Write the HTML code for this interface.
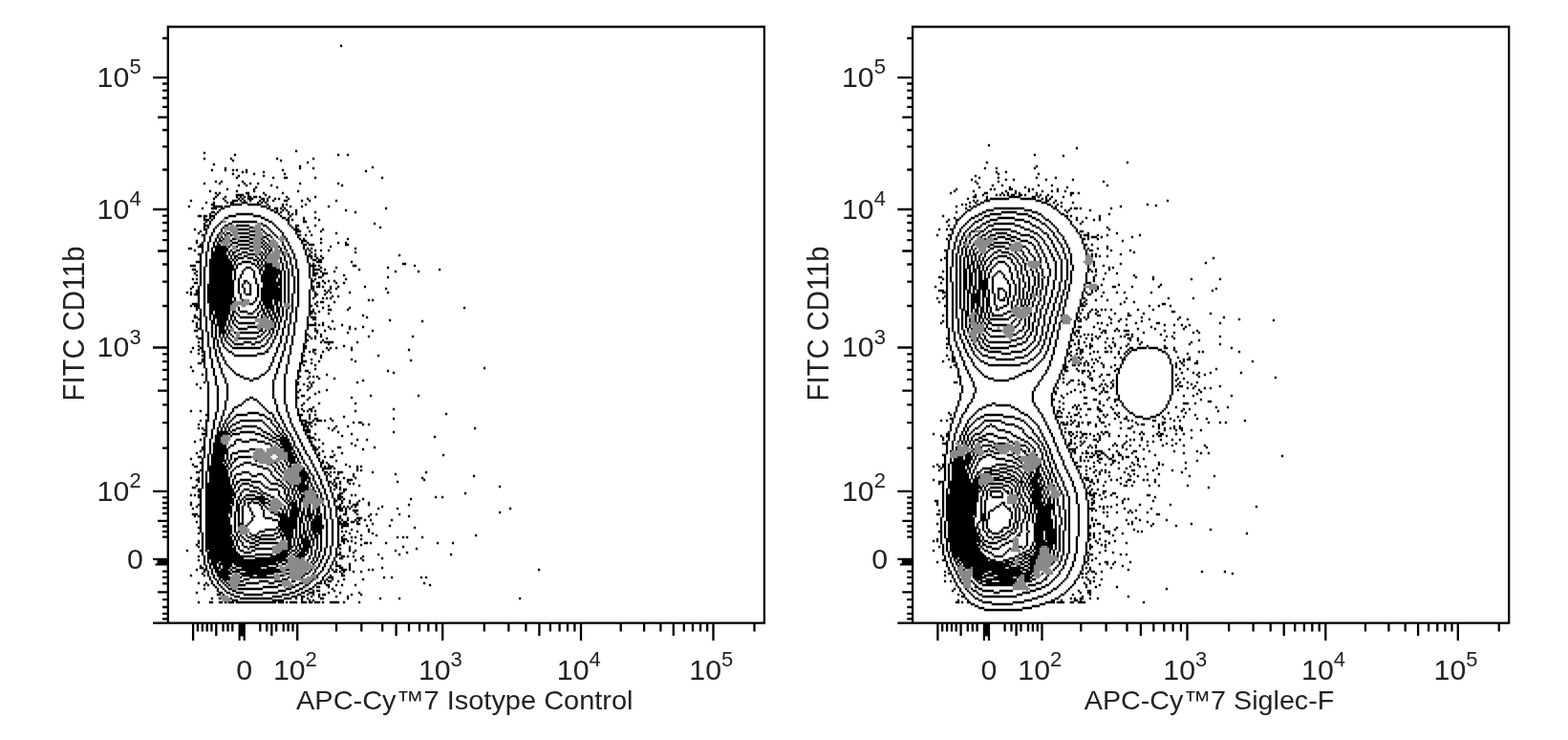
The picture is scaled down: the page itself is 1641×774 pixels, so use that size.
<!DOCTYPE html>
<html lang="en"><head><meta charset="utf-8"><title>Flow cytometry: CD11b vs Siglec-F</title>
<style>
html,body{margin:0;padding:0;background:#fff}
body{width:1641px;height:774px;overflow:hidden;position:relative}
svg{position:absolute;left:0;top:0;display:block}
text{font-family:"Liberation Sans",Arial,Helvetica,sans-serif;fill:#222}
.t{font-size:30.3px}
.u{font-size:22px}
.l{font-size:28px}
.v{font-size:30.6px}
</style></head><body>
<svg width="1641" height="774" viewBox="0 0 1641 774">
<rect width="1641" height="774" fill="#fff"/>
<g id="plots">
<g id="plot-left">
<path d="M174.7 28H801M175.8 28V651.6M799.9 28V652.8M160 651.6H799.9M202.1 651.6V670M206.9 651.6V660.4M211.8 651.6V660.4M216.7 651.6V660.4M221.4 651.6V660.4M226.3 651.6V665M233.5 651.6V660.4M238.5 651.6V660.4M243.3 651.6V660.4M272.3 651.6V660.4M279.2 651.6V660.4M284.3 651.6V665M289.2 651.6V660.4M296.7 651.6V660.4M301.6 651.6V660.4M306.5 651.6V660.4M311.2 651.6V670M352 651.6V660.4M378.3 651.6V660.4M400.2 651.6V660.4M414.6 651.6V665M428 651.6V660.4M439 651.6V660.4M448.3 651.6V660.4M456.6 651.6V660.4M463.2 651.6V670M506.8 651.6V660.4M532.3 651.6V660.4M550.4 651.6V660.4M564.4 651.6V665M575.9 651.6V660.4M585.6 651.6V660.4M594 651.6V660.4M601.4 651.6V660.4M608 651.6V670M649.7 651.6V660.4M674.1 651.6V660.4M691.4 651.6V660.4M704.8 651.6V665M715.8 651.6V660.4M725 651.6V660.4M733.1 651.6V660.4M740.2 651.6V660.4M746.5 651.6V670M789.5 651.6V660.4M175.8 40H170M175.8 81.2H160M175.8 87.5H170M175.8 94.6H170M175.8 102.5H170M175.8 111.8H170M175.8 122.7H165M175.8 136H170M175.8 153.3H170M175.8 177.5H170M175.8 219H160M175.8 225.6H170M175.8 233H170M175.8 241.4H170M175.8 251.1H170M175.8 262.5H165M175.8 276.5H170M175.8 294.6H170M175.8 320H170M175.8 363.5H160M175.8 370.4H170M175.8 378.1H170M175.8 386.8H170M175.8 396.8H170M175.8 408.7H165M175.8 423.3H170M175.8 442.1H170M175.8 468.6H170M175.8 513.8H160M175.8 520.3H170M175.8 526H170M175.8 531.4H170M175.8 537H170M175.8 544.9H165M175.8 550.5H170M175.8 555.9H170M175.8 561.6H170M175.8 597.7H170M175.8 603.8H170M175.8 610.4H170M175.8 619.3H165M175.8 627.1H170M175.8 635H170M175.8 641.9H170M175.8 647.3H170" fill="none" stroke="#000" stroke-width="2.3"/>
<path d="M249.5 651.6V670H251.6V665.5H254.6V670H256.8V651.6Z" fill="#000"/>
<path d="M175.8 583.8H160V586H164.5V589.4H162.5V591.4H175.8Z" fill="#000"/>
<path d="M308.9 158h2.3M212.8 160h2.3M244.8 162h2.3M362.9 162h2.3M212.8 166h2.3M240.8 166h2.3M288.9 166h2.3M326.9 166h2.3M242.8 168h2.3M292.9 168h2.3M320.9 170h2.3M222.8 172h2.3M312.9 174h2.3M234.8 176h2.3M312.9 176h2.3M326.9 176h2.3M220.8 178h2.3M234.8 178h2.3M242.8 178h2.3M246.8 178h2.3M256.9 178h2.3M294.9 178h2.3M252.8 180h2.3M256.9 180h2.3M274.9 180h2.3M242.8 182h2.3M264.9 182h2.3M296.9 182h2.3M248.8 184h2.3M274.9 184h2.3M246.8 186h2.3M284.9 186h2.3M296.9 186h4.3M328.9 186h2.3M224.8 190h2.3M230.8 190h2.3M252.8 190h2.3M212.8 192h2.3M228.8 192h2.3M254.8 192h2.3M260.9 192h2.3M268.9 192h2.3M312.9 192h2.3M352.9 192h2.3M248.8 194h2.3M256.9 194h2.3M282.9 194h2.3M356.9 194h2.3M266.9 196h2.3M288.9 196h2.3M236.8 198h2.3M264.9 198h2.3M218.8 200h2.3M246.8 200h2.3M264.9 200h2.3M310.9 200h2.3M224.8 202h2.3M228.8 202h2.3M256.9 202h4.3M274.9 202h2.3M294.9 202h2.3M226.8 204h2.3M246.8 204h8.3M258.9 204h2.3M276.9 204h2.3M224.8 206h2.3M234.8 206h2.3M246.8 206h2.3M250.8 206h2.3M254.8 206h2.3M258.9 206h4.3M264.9 206h4.3M270.9 206h2.3M280.9 206h2.3M298.9 206h2.3M328.9 206h2.3M222.8 208h2.3M232.8 208h2.3M248.8 208h2.3M252.8 208h2.3M258.9 208h6.3M272.9 208h4.3M278.9 208h2.3M286.9 208h2.3M290.9 208h2.3M300.9 208h2.3M320.9 208h2.3M198.8 210h2.3M234.8 210h2.3M242.8 210h6.3M250.8 210h2.3M254.8 210h2.3M260.9 210h2.3M270.9 210h2.3M274.9 210h2.3M278.9 210h2.3M284.9 210h2.3M296.9 210h4.3M314.9 210h2.3M322.9 210h2.3M350.9 210h2.3M214.8 212h2.3M222.8 212h2.3M236.8 212h2.3M240.8 212h4.3M252.8 212h6.3M268.9 212h2.3M272.9 212h2.3M276.9 212h2.3M220.8 214h4.3M240.8 214h12.3M258.9 214h14.3M278.9 214h2.3M294.9 214h2.3M298.9 214h2.3M318.9 214h2.3M196.8 216h2.3M222.8 216h10.3M234.8 216h6.3M272.9 216h6.3M280.9 216h2.3M294.9 216h2.3M302.9 216h2.3M314.9 216h2.3M342.9 216h2.3M210.8 218h2.3M220.8 218h6.3M230.8 218h4.3M278.9 218h4.3M286.9 218h4.3M292.9 218h2.3M296.9 218h2.3M228.8 220h2.3M282.9 220h4.3M288.9 220h2.3M294.9 220h2.3M298.9 220h2.3M308.9 220h2.3M360.9 220h2.3M220.8 222h4.3M226.8 222h2.3M286.9 222h4.3M292.9 222h2.3M300.9 222h2.3M308.9 222h2.3M328.9 222h2.3M370.9 222h2.3M218.8 224h2.3M224.8 224h2.3M246.8 224h18.3M290.9 224h2.3M300.9 224h2.3M304.9 224h2.3M308.9 224h2.3M206.8 226h4.3M212.8 226h4.3M218.8 226h6.3M238.8 226h8.3M264.9 226h8.3M292.9 226h2.3M302.9 226h2.3M212.8 228h2.3M218.8 228h2.3M222.8 228h2.3M234.8 228h4.3M272.9 228h4.3M294.9 228h4.3M300.9 228h2.3M316.9 228h2.3M328.9 228h2.3M212.8 230h6.3M220.8 230h2.3M276.9 230h4.3M298.9 230h4.3M304.9 230h2.3M316.9 230h2.3M332.9 230h2.3M214.8 232h2.3M218.8 232h2.3M230.8 232h2.3M242.8 232h26.3M280.9 232h4.3M300.9 232h2.3M316.9 232h4.3M212.8 234h2.3M218.8 234h2.3M228.8 234h2.3M238.8 234h4.3M272.9 234h2.3M284.9 234h2.3M300.9 234h2.3M390.9 234h2.3M212.8 236h6.3M226.8 236h2.3M234.8 236h4.3M246.8 236h14.3M274.9 236h4.3M286.9 236h2.3M302.9 236h2.3M308.9 236h4.3M328.9 236h2.3M212.8 238h2.3M216.8 238h2.3M224.8 238h2.3M232.8 238h2.3M260.9 238h4.3M278.9 238h2.3M288.9 238h2.3M304.9 238h2.3M308.9 238h2.3M320.9 238h2.3M396.9 238h2.3M202.8 240h2.3M212.8 240h4.3M222.8 240h2.3M230.8 240h2.3M248.8 240h12.3M272.9 240h2.3M280.9 240h2.3M290.9 240h2.3M306.9 240h6.3M336.9 240h2.3M208.8 242h2.3M214.8 242h2.3M222.8 242h2.3M230.8 242h2.3M260.9 242h6.3M274.9 242h2.3M282.9 242h2.3M292.9 242h2.3M308.9 242h6.3M322.9 242h2.3M334.9 242h2.3M206.8 244h2.3M214.8 244h2.3M220.8 244h2.3M228.8 244h2.3M232.8 244h2.3M236.8 244h4.3M248.8 244h12.3M276.9 244h2.3M284.9 244h2.3M294.9 244h2.3M308.9 244h2.3M350.9 244h2.3M210.8 246h4.3M220.8 246h2.3M226.8 246h2.3M234.8 246h2.3M240.8 246h2.3M260.9 246h6.3M278.9 246h4.3M286.9 246h2.3M294.9 246h2.3M310.9 246h4.3M318.9 246h2.3M324.9 246h2.3M212.8 248h2.3M218.8 248h2.3M226.8 248h2.3M230.8 248h2.3M250.8 248h10.3M274.9 248h4.3M282.9 248h2.3M288.9 248h2.3M296.9 248h2.3M310.9 248h2.3M212.8 250h2.3M218.8 250h2.3M224.8 250h2.3M228.8 250h2.3M232.8 250h2.3M242.8 250h4.3M260.9 250h4.3M272.9 250h2.3M278.9 250h2.3M298.9 250h2.3M312.9 250h2.3M316.9 250h2.3M334.9 250h2.3M362.9 250h2.3M204.8 252h2.3M212.8 252h2.3M218.8 252h2.3M224.8 252h2.3M228.8 252h4.3M240.8 252h2.3M248.8 252h12.3M274.9 252h2.3M280.9 252h2.3M298.9 252h2.3M314.9 252h6.3M204.8 254h2.3M210.8 254h2.3M216.8 254h2.3M222.8 254h2.3M226.8 254h2.3M242.8 254h6.3M260.9 254h4.3M272.9 254h2.3M276.9 254h2.3M294.9 254h2.3M300.9 254h2.3M314.9 254h2.3M320.9 254h2.3M334.9 254h2.3M352.9 254h2.3M360.9 254h2.3M208.8 256h4.3M216.8 256h2.3M222.8 256h2.3M226.8 256h4.3M240.8 256h2.3M248.8 256h12.3M274.9 256h2.3M278.9 256h2.3M294.9 256h2.3M300.9 256h2.3M316.9 256h4.3M322.9 256h6.3M360.9 256h4.3M206.8 258h6.3M216.8 258h2.3M222.8 258h14.3M238.8 258h2.3M246.8 258h2.3M260.9 258h4.3M272.9 258h2.3M276.9 258h2.3M280.9 258h2.3M290.9 258h2.3M296.9 258h2.3M302.9 258h2.3M316.9 258h2.3M344.9 258h2.3M196.8 260h4.3M210.8 260h2.3M216.8 260h2.3M220.8 260h2.3M224.8 260h14.3M250.8 260h10.3M274.9 260h2.3M278.9 260h2.3M282.9 260h2.3M292.9 260h2.3M296.9 260h2.3M302.9 260h2.3M316.9 260h2.3M320.9 260h2.3M324.9 260h2.3M370.9 260h2.3M202.8 262h2.3M210.8 262h2.3M216.8 262h2.3M220.8 262h2.3M224.8 262h14.3M240.8 262h2.3M246.8 262h4.3M260.9 262h4.3M276.9 262h2.3M280.9 262h4.3M292.9 262h2.3M298.9 262h2.3M304.9 262h2.3M318.9 262h2.3M322.9 262h2.3M328.9 262h2.3M334.9 262h2.3M342.9 262h2.3M210.8 264h2.3M214.8 264h2.3M220.8 264h16.3M238.8 264h2.3M242.8 264h4.3M252.8 264h6.3M272.9 264h2.3M276.9 264h2.3M280.9 264h2.3M294.9 264h2.3M304.9 264h2.3M318.9 264h2.3M324.9 264h2.3M370.9 264h2.3M206.8 266h4.3M214.8 266h2.3M220.8 266h16.3M238.8 266h2.3M242.8 266h2.3M248.8 266h4.3M258.9 266h8.3M270.9 266h2.3M274.9 266h2.3M278.9 266h2.3M294.9 266h2.3M300.9 266h2.3M306.9 266h2.3M318.9 266h2.3M322.9 266h2.3M328.9 266h2.3M208.8 268h2.3M214.8 268h2.3M220.8 268h18.3M240.8 268h2.3M244.8 268h4.3M254.8 268h4.3M266.9 268h2.3M272.9 268h2.3M276.9 268h2.3M296.9 268h2.3M300.9 268h2.3M306.9 268h2.3M320.9 268h6.3M328.9 268h2.3M334.9 268h2.3M208.8 270h2.3M214.8 270h2.3M220.8 270h18.3M240.8 270h2.3M244.8 270h2.3M248.8 270h6.3M258.9 270h6.3M268.9 270h2.3M272.9 270h2.3M276.9 270h2.3M292.9 270h2.3M296.9 270h2.3M302.9 270h2.3M306.9 270h2.3M320.9 270h2.3M324.9 270h2.3M330.9 270h2.3M336.9 270h2.3M208.8 272h2.3M214.8 272h2.3M218.8 272h22.3M242.8 272h2.3M246.8 272h2.3M264.9 272h4.3M270.9 272h2.3M274.9 272h2.3M292.9 272h2.3M296.9 272h2.3M302.9 272h2.3M308.9 272h2.3M320.9 272h2.3M326.9 272h4.3M332.9 272h4.3M204.8 274h6.3M214.8 274h2.3M218.8 274h24.3M244.8 274h2.3M252.8 274h10.3M268.9 274h2.3M272.9 274h2.3M276.9 274h2.3M292.9 274h2.3M298.9 274h2.3M302.9 274h2.3M308.9 274h2.3M320.9 274h2.3M330.9 274h6.3M366.9 274h2.3M208.8 276h2.3M214.8 276h2.3M218.8 276h24.3M244.8 276h2.3M248.8 276h4.3M262.9 276h4.3M268.9 276h2.3M272.9 276h2.3M276.9 276h8.3M294.9 276h2.3M298.9 276h2.3M302.9 276h2.3M308.9 276h2.3M322.9 276h2.3M326.9 276h2.3M420.9 276h4.3M198.8 278h6.3M208.8 278h2.3M214.8 278h2.3M218.8 278h26.3M246.8 278h2.3M266.9 278h2.3M270.9 278h2.3M274.9 278h10.3M294.9 278h2.3M298.9 278h2.3M304.9 278h2.3M308.9 278h2.3M322.9 278h8.3M332.9 278h2.3M368.9 278h4.3M432.9 278h2.3M208.8 280h2.3M212.8 280h2.3M218.8 280h26.3M246.8 280h2.3M256.9 280h6.3M268.9 280h2.3M272.9 280h2.3M276.9 280h12.3M294.9 280h2.3M298.9 280h2.3M304.9 280h2.3M308.9 280h2.3M322.9 280h2.3M326.9 280h2.3M334.9 280h2.3M350.9 280h2.3M404.9 280h2.3M200.8 282h4.3M208.8 282h2.3M212.8 282h2.3M218.8 282h28.3M254.8 282h2.3M262.9 282h2.3M270.9 282h4.3M276.9 282h16.3M294.9 282h2.3M300.9 282h2.3M304.9 282h2.3M310.9 282h2.3M322.9 282h2.3M326.9 282h8.3M338.9 282h2.3M374.9 282h2.3M458.9 282h2.3M204.8 284h2.3M208.8 284h2.3M212.8 284h2.3M218.8 284h24.3M244.8 284h2.3M252.8 284h2.3M264.9 284h2.3M270.9 284h2.3M274.9 284h20.3M296.9 284h2.3M300.9 284h2.3M304.9 284h2.3M310.9 284h2.3M322.9 284h2.3M326.9 284h2.3M334.9 284h2.3M348.9 284h2.3M412.9 284h2.3M436.9 284h2.3M202.8 286h2.3M208.8 286h2.3M212.8 286h2.3M218.8 286h24.3M244.8 286h2.3M252.8 286h2.3M264.9 286h2.3M270.9 286h2.3M274.9 286h20.3M296.9 286h2.3M300.9 286h2.3M304.9 286h2.3M310.9 286h2.3M322.9 286h2.3M326.9 286h6.3M336.9 286h6.3M204.8 288h2.3M208.8 288h2.3M212.8 288h2.3M218.8 288h24.3M244.8 288h2.3M250.8 288h2.3M264.9 288h2.3M272.9 288h18.3M292.9 288h2.3M296.9 288h2.3M300.9 288h2.3M304.9 288h2.3M310.9 288h2.3M322.9 288h2.3M326.9 288h4.3M336.9 288h2.3M358.9 288h2.3M208.8 290h2.3M212.8 290h2.3M218.8 290h24.3M244.8 290h2.3M250.8 290h2.3M264.9 290h2.3M272.9 290h18.3M292.9 290h2.3M296.9 290h2.3M300.9 290h2.3M306.9 290h2.3M310.9 290h2.3M322.9 290h2.3M332.9 290h4.3M404.9 290h2.3M200.8 292h2.3M204.8 292h2.3M208.8 292h2.3M212.8 292h2.3M218.8 292h24.3M244.8 292h2.3M248.8 292h2.3M266.9 292h2.3M272.9 292h16.3M290.9 292h4.3M296.9 292h2.3M300.9 292h2.3M306.9 292h2.3M310.9 292h2.3M324.9 292h2.3M328.9 292h2.3M360.9 292h2.3M208.8 294h2.3M212.8 294h2.3M218.8 294h26.3M248.8 294h2.3M254.8 294h4.3M266.9 294h2.3M272.9 294h16.3M290.9 294h4.3M296.9 294h2.3M300.9 294h2.3M306.9 294h2.3M310.9 294h2.3M324.9 294h4.3M336.9 294h2.3M342.9 294h2.3M348.9 294h2.3M202.8 296h4.3M208.8 296h2.3M212.8 296h2.3M218.8 296h26.3M248.8 296h2.3M254.8 296h2.3M258.9 296h2.3M266.9 296h2.3M274.9 296h20.3M296.9 296h2.3M300.9 296h2.3M306.9 296h2.3M310.9 296h2.3M324.9 296h2.3M330.9 296h4.3M338.9 296h2.3M350.9 296h2.3M358.9 296h2.3M208.8 298h2.3M212.8 298h2.3M216.8 298h28.3M248.8 298h2.3M252.8 298h2.3M260.9 298h2.3M268.9 298h2.3M274.9 298h20.3M296.9 298h2.3M300.9 298h2.3M306.9 298h2.3M310.9 298h2.3M324.9 298h2.3M332.9 298h2.3M200.8 300h2.3M206.8 300h2.3M212.8 300h2.3M216.8 300h28.3M248.8 300h2.3M252.8 300h2.3M260.9 300h2.3M268.9 300h2.3M274.9 300h16.3M292.9 300h2.3M296.9 300h2.3M300.9 300h2.3M306.9 300h2.3M310.9 300h2.3M324.9 300h4.3M330.9 300h4.3M336.9 300h2.3M344.9 300h2.3M352.9 300h2.3M380.9 300h2.3M198.8 302h2.3M206.8 302h2.3M212.8 302h2.3M216.8 302h28.3M248.8 302h2.3M254.8 302h2.3M260.9 302h2.3M268.9 302h2.3M272.9 302h22.3M296.9 302h2.3M300.9 302h2.3M306.9 302h2.3M310.9 302h2.3M324.9 302h4.3M344.9 302h2.3M350.9 302h2.3M402.9 302h2.3M204.8 304h4.3M212.8 304h2.3M216.8 304h28.3M248.8 304h2.3M254.8 304h2.3M260.9 304h2.3M268.9 304h2.3M272.9 304h22.3M296.9 304h2.3M300.9 304h2.3M306.9 304h2.3M310.9 304h2.3M322.9 304h2.3M326.9 304h2.3M338.9 304h2.3M342.9 304h2.3M194.8 306h2.3M198.8 306h2.3M204.8 306h4.3M212.8 306h2.3M216.8 306h28.3M248.8 306h2.3M254.8 306h2.3M260.9 306h2.3M268.9 306h2.3M272.9 306h22.3M296.9 306h2.3M300.9 306h2.3M306.9 306h2.3M310.9 306h2.3M322.9 306h2.3M328.9 306h2.3M340.9 306h2.3M344.9 306h2.3M364.9 306h2.3M404.9 306h2.3M198.8 308h2.3M202.8 308h6.3M212.8 308h2.3M216.8 308h28.3M250.8 308h2.3M256.9 308h6.3M268.9 308h2.3M272.9 308h22.3M296.9 308h2.3M300.9 308h2.3M304.9 308h2.3M310.9 308h2.3M322.9 308h2.3M328.9 308h4.3M338.9 308h2.3M206.8 310h2.3M212.8 310h2.3M216.8 310h28.3M250.8 310h2.3M268.9 310h2.3M272.9 310h22.3M296.9 310h2.3M300.9 310h2.3M304.9 310h2.3M310.9 310h2.3M322.9 310h2.3M328.9 310h2.3M346.9 310h2.3M352.9 310h2.3M206.8 312h2.3M212.8 312h2.3M216.8 312h26.3M244.8 312h2.3M250.8 312h2.3M266.9 312h2.3M272.9 312h22.3M296.9 312h2.3M300.9 312h2.3M304.9 312h2.3M310.9 312h2.3M322.9 312h2.3M326.9 312h2.3M336.9 312h2.3M340.9 312h2.3M344.9 312h2.3M206.8 314h2.3M212.8 314h2.3M216.8 314h26.3M244.8 314h2.3M252.8 314h2.3M266.9 314h2.3M272.9 314h12.3M286.9 314h8.3M296.9 314h2.3M300.9 314h2.3M304.9 314h2.3M310.9 314h2.3M322.9 314h2.3M384.9 314h2.3M388.9 314h2.3M206.8 316h2.3M212.8 316h2.3M216.8 316h28.3M264.9 316h2.3M270.9 316h2.3M274.9 316h10.3M286.9 316h4.3M292.9 316h2.3M296.9 316h2.3M300.9 316h2.3M304.9 316h2.3M310.9 316h2.3M322.9 316h2.3M330.9 316h2.3M334.9 316h4.3M348.9 316h2.3M200.8 318h8.3M212.8 318h2.3M218.8 318h24.3M260.9 318h4.3M270.9 318h2.3M274.9 318h10.3M286.9 318h4.3M292.9 318h2.3M304.9 318h2.3M310.9 318h2.3M322.9 318h2.3M328.9 318h2.3M198.8 320h2.3M202.8 320h6.3M212.8 320h2.3M218.8 320h22.3M268.9 320h2.3M272.9 320h2.3M276.9 320h10.3M288.9 320h2.3M292.9 320h2.3M304.9 320h2.3M310.9 320h2.3M322.9 320h4.3M330.9 320h2.3M342.9 320h2.3M204.8 322h4.3M212.8 322h2.3M218.8 322h22.3M248.8 322h2.3M268.9 322h2.3M272.9 322h2.3M276.9 322h10.3M288.9 322h4.3M294.9 322h2.3M300.9 322h2.3M304.9 322h2.3M308.9 322h2.3M322.9 322h2.3M336.9 322h2.3M364.9 322h2.3M484.9 322h2.3M204.8 324h2.3M208.8 324h2.3M212.8 324h2.3M218.8 324h22.3M248.8 324h2.3M266.9 324h2.3M272.9 324h4.3M278.9 324h2.3M282.9 324h4.3M288.9 324h4.3M294.9 324h2.3M298.9 324h2.3M304.9 324h2.3M308.9 324h2.3M322.9 324h2.3M326.9 324h2.3M342.9 324h4.3M362.9 324h2.3M208.8 326h2.3M212.8 326h2.3M218.8 326h4.3M224.8 326h16.3M242.8 326h4.3M250.8 326h8.3M264.9 326h2.3M270.9 326h2.3M274.9 326h2.3M278.9 326h4.3M284.9 326h2.3M288.9 326h4.3M294.9 326h2.3M298.9 326h2.3M304.9 326h2.3M308.9 326h2.3M322.9 326h6.3M332.9 326h2.3M208.8 328h2.3M212.8 328h2.3M218.8 328h4.3M224.8 328h16.3M242.8 328h2.3M246.8 328h2.3M258.9 328h6.3M268.9 328h2.3M274.9 328h4.3M280.9 328h2.3M284.9 328h4.3M290.9 328h2.3M294.9 328h2.3M298.9 328h2.3M302.9 328h2.3M308.9 328h2.3M322.9 328h4.3M328.9 328h2.3M342.9 328h2.3M202.8 330h2.3M208.8 330h2.3M212.8 330h2.3M218.8 330h2.3M222.8 330h16.3M240.8 330h4.3M248.8 330h2.3M268.9 330h2.3M272.9 330h2.3M276.9 330h2.3M280.9 330h4.3M286.9 330h2.3M290.9 330h2.3M294.9 330h2.3M298.9 330h2.3M302.9 330h2.3M308.9 330h2.3M322.9 330h2.3M378.9 330h2.3M202.8 332h4.3M208.8 332h2.3M214.8 332h2.3M218.8 332h2.3M222.8 332h16.3M240.8 332h2.3M244.8 332h2.3M250.8 332h18.3M272.9 332h2.3M278.9 332h2.3M282.9 332h2.3M286.9 332h4.3M292.9 332h2.3M298.9 332h2.3M302.9 332h2.3M308.9 332h2.3M320.9 332h2.3M324.9 332h6.3M382.9 332h2.3M206.8 334h4.3M214.8 334h2.3M218.8 334h2.3M222.8 334h2.3M226.8 334h12.3M240.8 334h2.3M244.8 334h2.3M282.9 334h4.3M288.9 334h2.3M292.9 334h2.3M298.9 334h2.3M302.9 334h2.3M308.9 334h2.3M320.9 334h2.3M326.9 334h4.3M200.8 336h2.3M208.8 336h2.3M214.8 336h2.3M220.8 336h4.3M226.8 336h10.3M238.8 336h2.3M242.8 336h2.3M246.8 336h2.3M284.9 336h2.3M288.9 336h2.3M292.9 336h2.3M296.9 336h2.3M302.9 336h2.3M308.9 336h2.3M320.9 336h2.3M346.9 336h2.3M440.9 336h2.3M204.8 338h2.3M208.8 338h2.3M214.8 338h2.3M220.8 338h4.3M226.8 338h10.3M238.8 338h2.3M242.8 338h2.3M248.8 338h18.3M286.9 338h2.3M290.9 338h2.3M296.9 338h2.3M302.9 338h2.3M306.9 338h2.3M320.9 338h2.3M328.9 338h2.3M336.9 338h2.3M204.8 340h2.3M208.8 340h2.3M214.8 340h2.3M220.8 340h2.3M224.8 340h12.3M238.8 340h2.3M244.8 340h2.3M286.9 340h2.3M290.9 340h2.3M296.9 340h2.3M300.9 340h2.3M306.9 340h2.3M320.9 340h10.3M332.9 340h2.3M336.9 340h2.3M356.9 340h2.3M204.8 342h2.3M208.8 342h2.3M214.8 342h2.3M220.8 342h2.3M224.8 342h2.3M228.8 342h6.3M236.8 342h2.3M240.8 342h2.3M246.8 342h2.3M258.9 342h10.3M286.9 342h2.3M290.9 342h2.3M296.9 342h2.3M300.9 342h2.3M306.9 342h2.3M320.9 342h2.3M342.9 342h2.3M364.9 342h2.3M378.9 342h2.3M206.8 344h4.3M214.8 344h2.3M220.8 344h2.3M224.8 344h2.3M228.8 344h6.3M236.8 344h2.3M248.8 344h10.3M272.9 344h2.3M282.9 344h4.3M290.9 344h2.3M294.9 344h2.3M300.9 344h2.3M306.9 344h2.3M320.9 344h2.3M328.9 344h2.3M344.9 344h2.3M348.9 344h2.3M364.9 344h2.3M370.9 344h2.3M202.8 346h4.3M210.8 346h2.3M214.8 346h2.3M220.8 346h2.3M224.8 346h2.3M228.8 346h8.3M238.8 346h2.3M270.9 346h4.3M276.9 346h2.3M280.9 346h2.3M284.9 346h2.3M288.9 346h2.3M294.9 346h2.3M300.9 346h2.3M306.9 346h2.3M318.9 346h2.3M328.9 346h4.3M338.9 346h2.3M388.9 346h2.3M210.8 348h2.3M216.8 348h2.3M220.8 348h2.3M224.8 348h2.3M228.8 348h8.3M238.8 348h2.3M244.8 348h2.3M250.8 348h20.3M274.9 348h2.3M280.9 348h2.3M284.9 348h2.3M288.9 348h2.3M294.9 348h2.3M300.9 348h2.3M306.9 348h2.3M318.9 348h2.3M330.9 348h2.3M362.9 348h2.3M210.8 350h2.3M216.8 350h2.3M220.8 350h2.3M224.8 350h2.3M228.8 350h2.3M232.8 350h2.3M236.8 350h2.3M240.8 350h2.3M272.9 350h2.3M278.9 350h2.3M282.9 350h2.3M288.9 350h2.3M294.9 350h2.3M300.9 350h2.3M306.9 350h2.3M318.9 350h4.3M334.9 350h2.3M204.8 352h2.3M210.8 352h2.3M216.8 352h2.3M220.8 352h2.3M224.8 352h2.3M228.8 352h2.3M232.8 352h2.3M236.8 352h2.3M242.8 352h2.3M268.9 352h4.3M276.9 352h2.3M282.9 352h2.3M286.9 352h2.3M292.9 352h2.3M298.9 352h2.3M304.9 352h2.3M318.9 352h2.3M322.9 352h2.3M328.9 352h2.3M334.9 352h2.3M384.9 352h2.3M430.9 352h2.3M206.8 354h6.3M216.8 354h2.3M222.8 354h4.3M230.8 354h2.3M234.8 354h2.3M238.8 354h2.3M248.8 354h20.3M274.9 354h2.3M280.9 354h2.3M286.9 354h2.3M292.9 354h2.3M298.9 354h2.3M304.9 354h2.3M318.9 354h2.3M324.9 354h2.3M328.9 354h2.3M340.9 354h2.3M210.8 356h2.3M216.8 356h2.3M222.8 356h2.3M226.8 356h2.3M230.8 356h2.3M234.8 356h2.3M240.8 356h2.3M272.9 356h2.3M278.9 356h2.3M284.9 356h2.3M292.9 356h2.3M298.9 356h2.3M304.9 356h2.3M318.9 356h4.3M336.9 356h2.3M206.8 358h2.3M210.8 358h2.3M216.8 358h2.3M222.8 358h2.3M226.8 358h2.3M230.8 358h2.3M236.8 358h2.3M242.8 358h2.3M254.8 358h8.3M266.9 358h6.3M278.9 358h2.3M284.9 358h2.3M292.9 358h2.3M298.9 358h2.3M304.9 358h2.3M318.9 358h2.3M334.9 358h2.3M338.9 358h10.3M372.9 358h2.3M210.8 360h2.3M216.8 360h2.3M222.8 360h2.3M226.8 360h2.3M232.8 360h2.3M238.8 360h2.3M244.8 360h10.3M262.9 360h4.3M276.9 360h2.3M282.9 360h2.3M290.9 360h2.3M296.9 360h2.3M304.9 360h2.3M316.9 360h2.3M342.9 360h2.3M206.8 362h2.3M210.8 362h2.3M216.8 362h2.3M222.8 362h2.3M226.8 362h2.3M232.8 362h2.3M240.8 362h2.3M272.9 362h4.3M282.9 362h2.3M290.9 362h2.3M296.9 362h2.3M302.9 362h2.3M316.9 362h4.3M358.9 362h2.3M200.8 364h2.3M208.8 364h4.3M218.8 364h2.3M222.8 364h2.3M228.8 364h2.3M234.8 364h2.3M242.8 364h30.3M280.9 364h2.3M288.9 364h2.3M296.9 364h2.3M302.9 364h2.3M316.9 364h4.3M340.9 364h2.3M344.9 364h2.3M350.9 364h2.3M366.9 364h2.3M206.8 366h2.3M210.8 366h2.3M218.8 366h2.3M224.8 366h2.3M228.8 366h2.3M236.8 366h2.3M278.9 366h2.3M288.9 366h2.3M296.9 366h2.3M302.9 366h2.3M316.9 366h2.3M326.9 366h4.3M342.9 366h2.3M366.9 366h2.3M426.9 366h2.3M198.8 368h2.3M210.8 368h4.3M218.8 368h2.3M224.8 368h2.3M228.8 368h2.3M238.8 368h4.3M276.9 368h4.3M288.9 368h2.3M294.9 368h2.3M302.9 368h2.3M316.9 368h2.3M322.9 368h2.3M326.9 368h2.3M336.9 368h2.3M206.8 370h2.3M212.8 370h2.3M218.8 370h2.3M224.8 370h2.3M230.8 370h2.3M242.8 370h2.3M268.9 370h8.3M286.9 370h2.3M294.9 370h2.3M302.9 370h2.3M314.9 370h2.3M328.9 370h2.3M210.8 372h4.3M218.8 372h2.3M224.8 372h2.3M230.8 372h2.3M244.8 372h24.3M286.9 372h2.3M294.9 372h2.3M300.9 372h2.3M314.9 372h4.3M334.9 372h2.3M394.9 372h2.3M212.8 374h2.3M218.8 374h2.3M226.8 374h2.3M232.8 374h2.3M284.9 374h2.3M292.9 374h2.3M300.9 374h2.3M314.9 374h2.3M334.9 374h2.3M210.8 376h4.3M220.8 376h2.3M226.8 376h2.3M232.8 376h2.3M284.9 376h2.3M292.9 376h2.3M300.9 376h2.3M314.9 376h2.3M324.9 376h2.3M366.9 376h2.3M210.8 378h4.3M220.8 378h2.3M226.8 378h2.3M234.8 378h2.3M284.9 378h2.3M292.9 378h2.3M300.9 378h2.3M314.9 378h6.3M332.9 378h2.3M370.9 378h2.3M206.8 380h4.3M212.8 380h2.3M220.8 380h2.3M228.8 380h2.3M234.8 380h2.3M282.9 380h2.3M290.9 380h2.3M300.9 380h2.3M312.9 380h4.3M324.9 380h2.3M212.8 382h2.3M220.8 382h2.3M228.8 382h2.3M236.8 382h2.3M282.9 382h2.3M290.9 382h2.3M298.9 382h2.3M312.9 382h2.3M316.9 382h2.3M328.9 382h2.3M198.8 384h2.3M212.8 384h2.3M220.8 384h2.3M228.8 384h2.3M238.8 384h2.3M280.9 384h2.3M290.9 384h2.3M298.9 384h2.3M312.9 384h2.3M214.8 386h2.3M222.8 386h2.3M230.8 386h2.3M240.8 386h2.3M280.9 386h2.3M288.9 386h2.3M298.9 386h2.3M312.9 386h2.3M328.9 386h2.3M200.8 388h2.3M214.8 388h2.3M222.8 388h2.3M230.8 388h2.3M242.8 388h2.3M278.9 388h2.3M288.9 388h2.3M298.9 388h2.3M310.9 388h4.3M318.9 388h4.3M404.9 388h2.3M214.8 390h2.3M222.8 390h2.3M230.8 390h2.3M244.8 390h2.3M276.9 390h2.3M288.9 390h2.3M298.9 390h2.3M310.9 390h2.3M322.9 390h2.3M410.9 390h2.3M210.8 392h2.3M214.8 392h2.3M222.8 392h2.3M232.8 392h2.3M246.8 392h4.3M272.9 392h4.3M286.9 392h2.3M296.9 392h2.3M310.9 392h2.3M340.9 392h2.3M214.8 394h2.3M224.8 394h2.3M232.8 394h2.3M250.8 394h4.3M270.9 394h2.3M286.9 394h2.3M296.9 394h2.3M310.9 394h4.3M322.9 394h2.3M326.9 394h2.3M330.9 394h2.3M214.8 396h2.3M224.8 396h2.3M234.8 396h2.3M254.8 396h6.3M264.9 396h6.3M286.9 396h2.3M296.9 396h2.3M310.9 396h2.3M320.9 396h2.3M332.9 396h2.3M348.9 396h2.3M214.8 398h2.3M224.8 398h2.3M234.8 398h2.3M260.9 398h4.3M284.9 398h2.3M296.9 398h2.3M308.9 398h2.3M378.9 398h2.3M212.8 400h2.3M216.8 400h2.3M224.8 400h2.3M234.8 400h2.3M284.9 400h2.3M296.9 400h2.3M308.9 400h4.3M322.9 400h2.3M326.9 400h2.3M372.9 400h2.3M204.8 402h2.3M216.8 402h2.3M224.8 402h2.3M236.8 402h2.3M284.9 402h2.3M296.9 402h2.3M308.9 402h4.3M316.9 402h2.3M324.9 402h2.3M216.8 404h2.3M226.8 404h2.3M236.8 404h2.3M284.9 404h2.3M296.9 404h2.3M308.9 404h2.3M320.9 404h2.3M324.9 404h2.3M208.8 406h2.3M216.8 406h2.3M226.8 406h2.3M236.8 406h2.3M284.9 406h2.3M296.9 406h2.3M308.9 406h2.3M322.9 406h2.3M216.8 408h2.3M226.8 408h2.3M236.8 408h2.3M284.9 408h2.3M296.9 408h2.3M308.9 408h2.3M312.9 408h2.3M320.9 408h2.3M340.9 408h2.3M216.8 410h2.3M226.8 410h2.3M236.8 410h2.3M284.9 410h2.3M296.9 410h2.3M308.9 410h4.3M332.9 410h2.3M216.8 412h2.3M226.8 412h2.3M236.8 412h2.3M284.9 412h2.3M296.9 412h2.3M308.9 412h2.3M328.9 412h2.3M216.8 414h2.3M226.8 414h2.3M236.8 414h2.3M284.9 414h2.3M296.9 414h2.3M308.9 414h2.3M314.9 414h4.3M386.9 414h2.3M436.9 414h2.3M216.8 416h2.3M226.8 416h2.3M236.8 416h2.3M260.9 416h4.3M284.9 416h2.3M296.9 416h2.3M308.9 416h4.3M322.9 416h2.3M366.9 416h2.3M216.8 418h2.3M226.8 418h2.3M236.8 418h2.3M256.9 418h4.3M264.9 418h4.3M286.9 418h2.3M296.9 418h2.3M308.9 418h2.3M320.9 418h2.3M216.8 420h2.3M226.8 420h2.3M234.8 420h2.3M254.8 420h2.3M268.9 420h2.3M286.9 420h2.3M296.9 420h2.3M308.9 420h2.3M216.8 422h2.3M226.8 422h2.3M234.8 422h2.3M252.8 422h2.3M270.9 422h2.3M286.9 422h2.3M296.9 422h2.3M308.9 422h2.3M316.9 422h2.3M332.9 422h2.3M370.9 422h2.3M216.8 424h2.3M226.8 424h2.3M234.8 424h2.3M248.8 424h4.3M272.9 424h2.3M288.9 424h2.3M298.9 424h2.3M308.9 424h2.3M314.9 424h2.3M216.8 426h2.3M226.8 426h2.3M234.8 426h2.3M244.8 426h4.3M274.9 426h2.3M288.9 426h2.3M298.9 426h2.3M308.9 426h2.3M326.9 426h2.3M216.8 428h2.3M226.8 428h2.3M234.8 428h2.3M242.8 428h2.3M276.9 428h2.3M288.9 428h2.3M298.9 428h2.3M310.9 428h2.3M314.9 428h2.3M322.9 428h4.3M410.9 428h2.3M198.8 430h2.3M208.8 430h2.3M216.8 430h2.3M226.8 430h2.3M232.8 430h2.3M242.8 430h2.3M278.9 430h2.3M288.9 430h2.3M298.9 430h2.3M310.9 430h2.3M316.9 430h2.3M320.9 430h2.3M324.9 430h2.3M328.9 430h2.3M370.9 430h2.3M216.8 432h2.3M224.8 432h2.3M232.8 432h2.3M240.8 432h2.3M258.9 432h12.3M280.9 432h4.3M290.9 432h2.3M300.9 432h2.3M310.9 432h2.3M214.8 434h4.3M224.8 434h2.3M232.8 434h2.3M238.8 434h2.3M246.8 434h12.3M270.9 434h6.3M284.9 434h2.3M290.9 434h2.3M300.9 434h2.3M310.9 434h6.3M322.9 434h2.3M328.9 434h2.3M216.8 436h2.3M224.8 436h2.3M230.8 436h2.3M238.8 436h2.3M244.8 436h2.3M276.9 436h2.3M284.9 436h2.3M292.9 436h2.3M300.9 436h2.3M312.9 436h2.3M322.9 436h2.3M358.9 436h2.3M216.8 438h2.3M224.8 438h2.3M230.8 438h2.3M236.8 438h2.3M242.8 438h2.3M278.9 438h4.3M286.9 438h2.3M292.9 438h2.3M302.9 438h2.3M312.9 438h2.3M322.9 438h2.3M328.9 438h4.3M344.9 438h2.3M410.9 438h2.3M208.8 440h2.3M214.8 440h4.3M222.8 440h2.3M230.8 440h2.3M234.8 440h2.3M240.8 440h2.3M250.8 440h24.3M282.9 440h2.3M286.9 440h2.3M294.9 440h2.3M302.9 440h2.3M312.9 440h8.3M326.9 440h2.3M330.9 440h6.3M338.9 440h2.3M346.9 440h2.3M214.8 442h2.3M222.8 442h2.3M228.8 442h2.3M234.8 442h2.3M238.8 442h2.3M246.8 442h4.3M274.9 442h2.3M282.9 442h2.3M288.9 442h2.3M294.9 442h2.3M302.9 442h2.3M314.9 442h2.3M318.9 442h8.3M368.9 442h2.3M374.9 442h4.3M206.8 444h2.3M214.8 444h2.3M222.8 444h2.3M228.8 444h2.3M232.8 444h2.3M236.8 444h2.3M242.8 444h4.3M276.9 444h2.3M284.9 444h2.3M290.9 444h2.3M296.9 444h2.3M304.9 444h2.3M314.9 444h6.3M322.9 444h2.3M328.9 444h2.3M378.9 444h2.3M384.9 444h2.3M214.8 446h2.3M222.8 446h2.3M228.8 446h2.3M232.8 446h2.3M236.8 446h2.3M240.8 446h2.3M252.8 446h16.3M278.9 446h2.3M286.9 446h2.3M290.9 446h2.3M296.9 446h2.3M304.9 446h2.3M316.9 446h6.3M324.9 446h2.3M350.9 446h2.3M362.9 446h2.3M206.8 448h2.3M210.8 448h2.3M214.8 448h2.3M222.8 448h2.3M226.8 448h2.3M230.8 448h2.3M234.8 448h2.3M238.8 448h2.3M246.8 448h6.3M268.9 448h4.3M280.9 448h2.3M288.9 448h2.3M292.9 448h2.3M298.9 448h2.3M306.9 448h2.3M316.9 448h2.3M320.9 448h2.3M342.9 448h2.3M348.9 448h2.3M212.8 450h4.3M220.8 450h2.3M226.8 450h2.3M230.8 450h2.3M234.8 450h2.3M238.8 450h2.3M242.8 450h4.3M272.9 450h2.3M282.9 450h2.3M288.9 450h2.3M294.9 450h2.3M298.9 450h2.3M306.9 450h2.3M316.9 450h8.3M346.9 450h2.3M214.8 452h2.3M220.8 452h2.3M226.8 452h12.3M240.8 452h2.3M250.8 452h16.3M274.9 452h4.3M284.9 452h2.3M290.9 452h2.3M294.9 452h2.3M300.9 452h2.3M308.9 452h2.3M318.9 452h6.3M352.9 452h2.3M410.9 452h2.3M210.8 454h6.3M220.8 454h2.3M226.8 454h14.3M242.8 454h8.3M266.9 454h6.3M278.9 454h4.3M286.9 454h2.3M292.9 454h2.3M296.9 454h2.3M302.9 454h2.3M308.9 454h2.3M318.9 454h2.3M328.9 454h2.3M366.9 454h2.3M214.8 456h2.3M220.8 456h2.3M224.8 456h8.3M240.8 456h2.3M272.9 456h4.3M282.9 456h2.3M288.9 456h4.3M294.9 456h2.3M298.9 456h2.3M302.9 456h2.3M310.9 456h2.3M320.9 456h4.3M356.9 456h2.3M212.8 458h2.3M220.8 458h2.3M224.8 458h6.3M276.9 458h4.3M284.9 458h4.3M292.9 458h8.3M304.9 458h2.3M310.9 458h2.3M320.9 458h8.3M208.8 460h2.3M212.8 460h2.3M218.8 460h2.3M224.8 460h6.3M246.8 460h6.3M260.9 460h8.3M280.9 460h4.3M288.9 460h14.3M304.9 460h2.3M312.9 460h2.3M322.9 460h2.3M328.9 460h2.3M332.9 460h2.3M372.9 460h2.3M382.9 460h2.3M202.8 462h2.3M212.8 462h2.3M218.8 462h2.3M224.8 462h6.3M244.8 462h2.3M252.8 462h8.3M268.9 462h8.3M284.9 462h4.3M292.9 462h10.3M306.9 462h2.3M312.9 462h2.3M322.9 462h4.3M212.8 464h2.3M218.8 464h2.3M222.8 464h10.3M244.8 464h2.3M276.9 464h6.3M288.9 464h2.3M292.9 464h12.3M306.9 464h2.3M314.9 464h2.3M324.9 464h2.3M336.9 464h2.3M366.9 464h2.3M212.8 466h2.3M218.8 466h2.3M222.8 466h14.3M240.8 466h4.3M282.9 466h2.3M290.9 466h2.3M294.9 466h10.3M306.9 466h2.3M314.9 466h2.3M324.9 466h4.3M370.9 466h2.3M210.8 468h4.3M218.8 468h2.3M222.8 468h14.3M238.8 468h2.3M292.9 468h14.3M308.9 468h2.3M316.9 468h2.3M326.9 468h4.3M332.9 468h2.3M352.9 468h4.3M390.9 468h2.3M210.8 470h4.3M218.8 470h2.3M222.8 470h16.3M260.9 470h6.3M296.9 470h10.3M310.9 470h2.3M316.9 470h2.3M326.9 470h6.3M378.9 470h2.3M208.8 472h2.3M212.8 472h2.3M218.8 472h2.3M222.8 472h16.3M248.8 472h12.3M296.9 472h8.3M306.9 472h2.3M310.9 472h2.3M318.9 472h2.3M328.9 472h2.3M336.9 472h2.3M346.9 472h2.3M204.8 474h2.3M212.8 474h2.3M218.8 474h2.3M222.8 474h16.3M242.8 474h6.3M300.9 474h8.3M312.9 474h2.3M318.9 474h2.3M328.9 474h2.3M332.9 474h2.3M356.9 474h2.3M212.8 476h2.3M216.8 476h2.3M220.8 476h14.3M236.8 476h2.3M240.8 476h2.3M300.9 476h6.3M308.9 476h2.3M312.9 476h2.3M320.9 476h2.3M330.9 476h4.3M348.9 476h2.3M462.9 476h2.3M206.8 478h4.3M212.8 478h2.3M216.8 478h2.3M220.8 478h14.3M236.8 478h2.3M240.8 478h2.3M248.8 478h14.3M300.9 478h10.3M314.9 478h2.3M322.9 478h2.3M330.9 478h2.3M338.9 478h2.3M344.9 478h4.3M198.8 480h2.3M210.8 480h2.3M216.8 480h2.3M220.8 480h14.3M236.8 480h2.3M240.8 480h2.3M244.8 480h4.3M300.9 480h8.3M310.9 480h2.3M314.9 480h2.3M322.9 480h2.3M332.9 480h2.3M210.8 482h2.3M216.8 482h2.3M220.8 482h16.3M238.8 482h2.3M244.8 482h2.3M266.9 482h2.3M296.9 482h2.3M300.9 482h8.3M310.9 482h2.3M316.9 482h2.3M324.9 482h2.3M332.9 482h2.3M336.9 482h2.3M350.9 482h2.3M208.8 484h4.3M216.8 484h2.3M220.8 484h12.3M234.8 484h2.3M238.8 484h2.3M242.8 484h2.3M254.8 484h8.3M286.9 484h2.3M292.9 484h2.3M298.9 484h2.3M302.9 484h8.3M312.9 484h2.3M316.9 484h2.3M324.9 484h2.3M334.9 484h4.3M340.9 484h2.3M200.8 486h2.3M210.8 486h2.3M216.8 486h2.3M220.8 486h14.3M236.8 486h2.3M240.8 486h2.3M250.8 486h4.3M262.9 486h6.3M282.9 486h2.3M288.9 486h2.3M294.9 486h2.3M298.9 486h2.3M302.9 486h2.3M318.9 486h2.3M326.9 486h2.3M334.9 486h2.3M342.9 486h2.3M360.9 486h2.3M202.8 488h4.3M210.8 488h2.3M216.8 488h22.3M240.8 488h2.3M246.8 488h4.3M268.9 488h6.3M284.9 488h2.3M290.9 488h2.3M294.9 488h2.3M300.9 488h4.3M320.9 488h2.3M326.9 488h2.3M334.9 488h2.3M338.9 488h2.3M342.9 488h6.3M364.9 488h2.3M372.9 488h2.3M376.9 488h2.3M210.8 490h2.3M216.8 490h20.3M238.8 490h2.3M244.8 490h2.3M274.9 490h6.3M286.9 490h2.3M290.9 490h2.3M296.9 490h2.3M316.9 490h2.3M320.9 490h2.3M328.9 490h2.3M336.9 490h10.3M348.9 490h2.3M372.9 490h2.3M208.8 492h4.3M216.8 492h22.3M242.8 492h2.3M280.9 492h2.3M286.9 492h2.3M292.9 492h2.3M314.9 492h4.3M322.9 492h2.3M328.9 492h2.3M336.9 492h2.3M372.9 492h2.3M376.9 492h2.3M204.8 494h4.3M210.8 494h2.3M214.8 494h2.3M218.8 494h20.3M240.8 494h2.3M252.8 494h8.3M282.9 494h2.3M288.9 494h2.3M294.9 494h2.3M312.9 494h8.3M322.9 494h2.3M330.9 494h2.3M338.9 494h4.3M344.9 494h2.3M348.9 494h2.3M352.9 494h6.3M388.9 494h2.3M444.9 494h2.3M210.8 496h2.3M214.8 496h2.3M218.8 496h20.3M240.8 496h2.3M246.8 496h6.3M260.9 496h2.3M268.9 496h6.3M282.9 496h2.3M290.9 496h2.3M312.9 496h10.3M324.9 496h2.3M330.9 496h2.3M338.9 496h2.3M342.9 496h2.3M352.9 496h2.3M368.9 496h2.3M412.9 496h2.3M210.8 498h2.3M214.8 498h2.3M218.8 498h20.3M240.8 498h2.3M244.8 498h2.3M262.9 498h6.3M274.9 498h2.3M284.9 498h2.3M292.9 498h2.3M312.9 498h10.3M326.9 498h2.3M332.9 498h2.3M340.9 498h2.3M344.9 498h2.3M368.9 498h2.3M494.9 498h2.3M198.8 500h2.3M206.8 500h2.3M210.8 500h2.3M214.8 500h2.3M218.8 500h22.3M244.8 500h2.3M276.9 500h2.3M286.9 500h2.3M314.9 500h10.3M326.9 500h2.3M332.9 500h2.3M340.9 500h2.3M350.9 500h4.3M358.9 500h2.3M370.9 500h2.3M440.9 500h2.3M204.8 502h4.3M210.8 502h2.3M214.8 502h2.3M218.8 502h22.3M242.8 502h2.3M250.8 502h12.3M278.9 502h2.3M288.9 502h4.3M314.9 502h6.3M322.9 502h2.3M326.9 502h2.3M334.9 502h2.3M340.9 502h2.3M348.9 502h2.3M362.9 502h6.3M442.9 502h2.3M206.8 504h2.3M210.8 504h2.3M214.8 504h2.3M218.8 504h22.3M242.8 504h2.3M246.8 504h4.3M262.9 504h10.3M280.9 504h2.3M292.9 504h2.3M298.9 504h2.3M314.9 504h4.3M320.9 504h4.3M328.9 504h2.3M334.9 504h2.3M342.9 504h4.3M348.9 504h2.3M354.9 504h2.3M362.9 504h2.3M414.9 504h2.3M210.8 506h2.3M214.8 506h26.3M242.8 506h2.3M246.8 506h2.3M252.8 506h8.3M272.9 506h2.3M282.9 506h8.3M294.9 506h2.3M300.9 506h2.3M312.9 506h6.3M320.9 506h2.3M324.9 506h2.3M328.9 506h2.3M334.9 506h2.3M342.9 506h2.3M346.9 506h2.3M350.9 506h2.3M354.9 506h2.3M364.9 506h2.3M368.9 506h2.3M204.8 508h2.3M210.8 508h2.3M214.8 508h28.3M244.8 508h2.3M250.8 508h2.3M260.9 508h4.3M274.9 508h2.3M290.9 508h4.3M296.9 508h2.3M302.9 508h2.3M306.9 508h16.3M324.9 508h2.3M330.9 508h2.3M336.9 508h2.3M342.9 508h2.3M348.9 508h4.3M374.9 508h2.3M200.8 510h4.3M210.8 510h2.3M214.8 510h28.3M244.8 510h2.3M248.8 510h2.3M264.9 510h6.3M276.9 510h4.3M294.9 510h2.3M298.9 510h2.3M302.9 510h2.3M306.9 510h2.3M310.9 510h12.3M326.9 510h2.3M330.9 510h2.3M336.9 510h2.3M344.9 510h2.3M350.9 510h2.3M354.9 510h2.3M206.8 512h4.3M214.8 512h30.3M248.8 512h2.3M254.8 512h6.3M270.9 512h2.3M280.9 512h10.3M296.9 512h2.3M300.9 512h2.3M304.9 512h4.3M310.9 512h12.3M326.9 512h2.3M332.9 512h2.3M338.9 512h2.3M344.9 512h2.3M348.9 512h2.3M354.9 512h2.3M358.9 512h4.3M206.8 514h4.3M214.8 514h30.3M246.8 514h2.3M252.8 514h2.3M260.9 514h8.3M272.9 514h2.3M290.9 514h2.3M296.9 514h2.3M300.9 514h2.3M304.9 514h2.3M308.9 514h2.3M312.9 514h6.3M328.9 514h2.3M332.9 514h2.3M338.9 514h2.3M344.9 514h2.3M358.9 514h2.3M208.8 516h2.3M214.8 516h32.3M250.8 516h2.3M268.9 516h4.3M274.9 516h4.3M290.9 516h2.3M296.9 516h2.3M300.9 516h2.3M304.9 516h2.3M308.9 516h2.3M312.9 516h2.3M334.9 516h2.3M338.9 516h2.3M346.9 516h2.3M354.9 516h4.3M198.8 518h2.3M202.8 518h2.3M206.8 518h4.3M214.8 518h32.3M250.8 518h2.3M256.9 518h10.3M272.9 518h2.3M278.9 518h4.3M290.9 518h2.3M298.9 518h4.3M306.9 518h2.3M310.9 518h2.3M314.9 518h4.3M330.9 518h2.3M334.9 518h2.3M340.9 518h2.3M346.9 518h2.3M352.9 518h4.3M366.9 518h2.3M370.9 518h2.3M206.8 520h4.3M214.8 520h28.3M244.8 520h2.3M248.8 520h2.3M254.8 520h2.3M266.9 520h10.3M282.9 520h4.3M292.9 520h2.3M298.9 520h2.3M302.9 520h2.3M306.9 520h2.3M310.9 520h2.3M314.9 520h4.3M330.9 520h2.3M334.9 520h2.3M340.9 520h2.3M346.9 520h2.3M352.9 520h6.3M454.9 520h2.3M208.8 522h2.3M214.8 522h30.3M248.8 522h2.3M252.8 522h2.3M256.9 522h24.3M294.9 522h2.3M298.9 522h2.3M302.9 522h2.3M306.9 522h2.3M312.9 522h4.3M336.9 522h2.3M340.9 522h2.3M348.9 522h2.3M352.9 522h4.3M358.9 522h2.3M378.9 522h2.3M428.9 522h2.3M208.8 524h2.3M214.8 524h30.3M246.8 524h2.3M250.8 524h2.3M254.8 524h2.3M262.9 524h2.3M270.9 524h6.3M280.9 524h2.3M296.9 524h2.3M300.9 524h2.3M304.9 524h2.3M308.9 524h2.3M312.9 524h4.3M342.9 524h2.3M348.9 524h4.3M356.9 524h2.3M364.9 524h2.3M374.9 524h2.3M198.8 526h2.3M208.8 526h2.3M214.8 526h30.3M246.8 526h2.3M250.8 526h2.3M254.8 526h2.3M258.9 526h4.3M264.9 526h6.3M272.9 526h8.3M298.9 526h2.3M302.9 526h8.3M312.9 526h2.3M342.9 526h2.3M348.9 526h2.3M356.9 526h2.3M364.9 526h2.3M372.9 526h2.3M384.9 526h2.3M198.8 528h2.3M206.8 528h4.3M214.8 528h26.3M242.8 528h2.3M246.8 528h4.3M254.8 528h2.3M258.9 528h2.3M270.9 528h2.3M274.9 528h2.3M280.9 528h2.3M300.9 528h10.3M312.9 528h2.3M322.9 528h2.3M336.9 528h2.3M342.9 528h2.3M348.9 528h2.3M354.9 528h2.3M368.9 528h6.3M384.9 528h2.3M426.9 528h2.3M204.8 530h2.3M208.8 530h2.3M214.8 530h28.3M246.8 530h4.3M252.8 530h2.3M258.9 530h2.3M272.9 530h2.3M276.9 530h2.3M296.9 530h2.3M300.9 530h2.3M304.9 530h6.3M312.9 530h2.3M322.9 530h2.3M332.9 530h2.3M338.9 530h2.3M342.9 530h2.3M350.9 530h6.3M358.9 530h2.3M362.9 530h2.3M366.9 530h2.3M370.9 530h2.3M398.9 530h2.3M200.8 532h2.3M208.8 532h2.3M214.8 532h28.3M246.8 532h4.3M252.8 532h2.3M260.9 532h2.3M272.9 532h2.3M278.9 532h2.3M292.9 532h2.3M296.9 532h2.3M300.9 532h2.3M304.9 532h10.3M316.9 532h2.3M320.9 532h4.3M330.9 532h4.3M338.9 532h2.3M344.9 532h2.3M350.9 532h8.3M360.9 532h2.3M364.9 532h2.3M394.9 532h2.3M414.9 532h2.3M532.9 532h2.3M208.8 534h2.3M214.8 534h28.3M246.8 534h4.3M252.8 534h2.3M260.9 534h2.3M274.9 534h2.3M294.9 534h2.3M298.9 534h2.3M302.9 534h12.3M316.9 534h2.3M320.9 534h4.3M326.9 534h2.3M330.9 534h4.3M338.9 534h2.3M344.9 534h2.3M350.9 534h2.3M354.9 534h4.3M360.9 534h2.3M368.9 534h6.3M208.8 536h2.3M214.8 536h28.3M244.8 536h2.3M248.8 536h2.3M252.8 536h2.3M262.9 536h2.3M274.9 536h2.3M282.9 536h4.3M290.9 536h2.3M294.9 536h2.3M298.9 536h2.3M302.9 536h10.3M314.9 536h4.3M320.9 536h4.3M326.9 536h2.3M330.9 536h4.3M338.9 536h2.3M344.9 536h2.3M350.9 536h2.3M360.9 536h2.3M370.9 536h2.3M200.8 538h6.3M208.8 538h2.3M214.8 538h24.3M240.8 538h2.3M244.8 538h2.3M248.8 538h2.3M252.8 538h2.3M262.9 538h2.3M274.9 538h2.3M286.9 538h14.3M302.9 538h10.3M314.9 538h4.3M320.9 538h8.3M330.9 538h2.3M334.9 538h2.3M338.9 538h2.3M344.9 538h2.3M350.9 538h2.3M358.9 538h4.3M372.9 538h2.3M386.9 538h2.3M392.9 538h2.3M416.9 538h2.3M202.8 540h2.3M206.8 540h4.3M214.8 540h24.3M240.8 540h2.3M244.8 540h2.3M248.8 540h2.3M252.8 540h2.3M264.9 540h2.3M274.9 540h2.3M290.9 540h10.3M302.9 540h10.3M314.9 540h2.3M318.9 540h8.3M328.9 540h8.3M338.9 540h2.3M344.9 540h2.3M350.9 540h2.3M354.9 540h2.3M384.9 540h2.3M426.9 540h2.3M208.8 542h2.3M214.8 542h26.3M244.8 542h2.3M248.8 542h2.3M252.8 542h2.3M262.9 542h2.3M276.9 542h8.3M292.9 542h18.3M312.9 542h4.3M318.9 542h2.3M322.9 542h4.3M328.9 542h8.3M338.9 542h2.3M344.9 542h2.3M352.9 542h4.3M362.9 542h2.3M372.9 542h6.3M208.8 544h2.3M214.8 544h26.3M244.8 544h2.3M248.8 544h2.3M252.8 544h2.3M262.9 544h2.3M284.9 544h6.3M292.9 544h18.3M312.9 544h4.3M318.9 544h2.3M322.9 544h2.3M326.9 544h10.3M340.9 544h2.3M346.9 544h2.3M352.9 544h2.3M356.9 544h2.3M362.9 544h2.3M370.9 544h2.3M374.9 544h2.3M380.9 544h2.3M386.9 544h2.3M408.9 544h2.3M204.8 546h2.3M208.8 546h2.3M214.8 546h26.3M244.8 546h2.3M248.8 546h2.3M252.8 546h2.3M260.9 546h2.3M290.9 546h20.3M312.9 546h4.3M320.9 546h2.3M324.9 546h12.3M340.9 546h2.3M346.9 546h2.3M352.9 546h4.3M358.9 546h4.3M366.9 546h4.3M372.9 546h2.3M208.8 548h2.3M214.8 548h26.3M244.8 548h2.3M248.8 548h6.3M258.9 548h2.3M290.9 548h20.3M312.9 548h2.3M316.9 548h2.3M320.9 548h2.3M324.9 548h12.3M340.9 548h2.3M346.9 548h2.3M352.9 548h12.3M372.9 548h4.3M388.9 548h2.3M208.8 550h2.3M214.8 550h28.3M244.8 550h2.3M248.8 550h2.3M256.9 550h2.3M290.9 550h20.3M312.9 550h2.3M316.9 550h2.3M320.9 550h2.3M324.9 550h14.3M340.9 550h2.3M346.9 550h2.3M352.9 550h2.3M356.9 550h8.3M382.9 550h2.3M406.9 550h2.3M206.8 552h4.3M214.8 552h28.3M244.8 552h2.3M288.9 552h2.3M292.9 552h18.3M312.9 552h2.3M316.9 552h2.3M320.9 552h2.3M324.9 552h14.3M340.9 552h2.3M346.9 552h2.3M352.9 552h2.3M356.9 552h2.3M432.9 552h2.3M208.8 554h2.3M214.8 554h28.3M244.8 554h2.3M276.9 554h12.3M290.9 554h16.3M308.9 554h2.3M312.9 554h2.3M316.9 554h2.3M320.9 554h2.3M324.9 554h12.3M340.9 554h2.3M346.9 554h2.3M352.9 554h2.3M366.9 554h2.3M384.9 554h2.3M208.8 556h2.3M214.8 556h28.3M244.8 556h2.3M248.8 556h2.3M270.9 556h6.3M290.9 556h2.3M294.9 556h12.3M308.9 556h2.3M312.9 556h2.3M316.9 556h4.3M322.9 556h2.3M326.9 556h10.3M340.9 556h2.3M346.9 556h2.3M352.9 556h2.3M356.9 556h2.3M360.9 556h2.3M372.9 556h2.3M384.9 556h2.3M206.8 558h2.3M210.8 558h2.3M214.8 558h28.3M246.8 558h2.3M260.9 558h2.3M268.9 558h2.3M286.9 558h4.3M292.9 558h2.3M296.9 558h10.3M308.9 558h2.3M312.9 558h2.3M316.9 558h4.3M322.9 558h2.3M326.9 558h4.3M332.9 558h4.3M340.9 558h2.3M346.9 558h2.3M352.9 558h2.3M364.9 558h2.3M388.9 558h2.3M210.8 560h2.3M214.8 560h26.3M242.8 560h2.3M246.8 560h2.3M250.8 560h2.3M256.9 560h2.3M262.9 560h6.3M272.9 560h14.3M292.9 560h14.3M308.9 560h2.3M312.9 560h4.3M318.9 560h2.3M322.9 560h4.3M328.9 560h4.3M334.9 560h2.3M340.9 560h2.3M346.9 560h2.3M352.9 560h2.3M358.9 560h2.3M376.9 560h2.3M392.9 560h2.3M210.8 562h2.3M214.8 562h28.3M244.8 562h2.3M248.8 562h2.3M252.8 562h2.3M258.9 562h4.3M266.9 562h6.3M288.9 562h4.3M294.9 562h2.3M298.9 562h8.3M308.9 562h2.3M312.9 562h4.3M318.9 562h4.3M324.9 562h2.3M328.9 562h4.3M334.9 562h2.3M340.9 562h2.3M346.9 562h2.3M352.9 562h2.3M356.9 562h2.3M366.9 562h2.3M370.9 562h2.3M414.9 562h2.3M420.9 562h2.3M424.9 562h2.3M440.9 562h2.3M210.8 564h2.3M214.8 564h28.3M244.8 564h2.3M248.8 564h2.3M254.8 564h2.3M262.9 564h4.3M270.9 564h18.3M294.9 564h2.3M298.9 564h6.3M306.9 564h2.3M310.9 564h2.3M314.9 564h8.3M324.9 564h4.3M330.9 564h2.3M334.9 564h2.3M340.9 564h2.3M346.9 564h2.3M352.9 564h2.3M356.9 564h6.3M376.9 564h2.3M206.8 566h2.3M210.8 566h2.3M214.8 566h30.3M246.8 566h2.3M250.8 566h2.3M256.9 566h4.3M266.9 566h4.3M300.9 566h4.3M306.9 566h2.3M310.9 566h2.3M314.9 566h10.3M326.9 566h2.3M330.9 566h2.3M334.9 566h2.3M340.9 566h2.3M346.9 566h2.3M352.9 566h2.3M356.9 566h4.3M362.9 566h2.3M366.9 566h2.3M206.8 568h2.3M210.8 568h2.3M214.8 568h30.3M246.8 568h2.3M252.8 568h2.3M260.9 568h6.3M270.9 568h20.3M300.9 568h4.3M306.9 568h2.3M310.9 568h2.3M314.9 568h10.3M326.9 568h2.3M330.9 568h2.3M334.9 568h2.3M340.9 568h2.3M346.9 568h2.3M352.9 568h2.3M358.9 568h2.3M370.9 568h2.3M380.9 568h4.3M386.9 568h2.3M402.9 568h2.3M456.9 568h2.3M472.9 568h2.3M204.8 570h2.3M210.8 570h2.3M214.8 570h30.3M246.8 570h2.3M252.8 570h2.3M266.9 570h4.3M300.9 570h4.3M306.9 570h2.3M310.9 570h4.3M316.9 570h8.3M326.9 570h2.3M330.9 570h2.3M334.9 570h2.3M340.9 570h2.3M346.9 570h2.3M352.9 570h4.3M376.9 570h2.3M206.8 572h2.3M210.8 572h2.3M214.8 572h28.3M244.8 572h2.3M248.8 572h2.3M254.8 572h4.3M260.9 572h6.3M300.9 572h6.3M308.9 572h2.3M312.9 572h2.3M316.9 572h10.3M330.9 572h2.3M334.9 572h2.3M340.9 572h2.3M344.9 572h2.3M352.9 572h2.3M364.9 572h2.3M420.9 572h2.3M210.8 574h2.3M214.8 574h32.3M248.8 574h2.3M258.9 574h2.3M266.9 574h18.3M300.9 574h4.3M308.9 574h2.3M312.9 574h10.3M324.9 574h2.3M330.9 574h2.3M334.9 574h2.3M338.9 574h2.3M344.9 574h2.3M350.9 574h2.3M354.9 574h2.3M364.9 574h2.3M434.9 574h2.3M194.8 576h2.3M208.8 576h4.3M214.8 576h2.3M218.8 576h28.3M250.8 576h4.3M262.9 576h4.3M294.9 576h8.3M304.9 576h4.3M310.9 576h2.3M314.9 576h8.3M324.9 576h2.3M328.9 576h2.3M334.9 576h2.3M338.9 576h2.3M344.9 576h2.3M350.9 576h2.3M364.9 576h2.3M370.9 576h2.3M412.9 576h2.3M210.8 578h2.3M216.8 578h32.3M254.8 578h8.3M292.9 578h8.3M302.9 578h2.3M308.9 578h2.3M312.9 578h6.3M320.9 578h2.3M324.9 578h2.3M328.9 578h2.3M332.9 578h2.3M338.9 578h2.3M344.9 578h2.3M350.9 578h2.3M354.9 578h2.3M368.9 578h2.3M424.9 578h2.3M210.8 580h2.3M216.8 580h34.3M266.9 580h18.3M288.9 580h14.3M306.9 580h2.3M310.9 580h10.3M324.9 580h2.3M328.9 580h2.3M332.9 580h2.3M338.9 580h2.3M344.9 580h2.3M350.9 580h6.3M394.9 580h2.3M416.9 580h2.3M470.9 580h2.3M206.8 582h2.3M212.8 582h2.3M216.8 582h50.3M282.9 582h18.3M308.9 582h10.3M322.9 582h2.3M328.9 582h2.3M332.9 582h2.3M336.9 582h2.3M342.9 582h2.3M350.9 582h2.3M356.9 582h4.3M362.9 582h2.3M368.9 582h2.3M378.9 582h2.3M212.8 584h2.3M216.8 584h38.3M266.9 584h32.3M312.9 584h2.3M322.9 584h2.3M326.9 584h2.3M330.9 584h2.3M336.9 584h2.3M342.9 584h2.3M348.9 584h2.3M354.9 584h4.3M376.9 584h2.3M398.9 584h2.3M206.8 586h2.3M212.8 586h2.3M216.8 586h2.3M220.8 586h80.3M320.9 586h2.3M326.9 586h2.3M330.9 586h2.3M334.9 586h2.3M340.9 586h2.3M348.9 586h2.3M370.9 586h2.3M378.9 586h2.3M212.8 588h2.3M216.8 588h2.3M220.8 588h8.3M230.8 588h58.3M290.9 588h4.3M298.9 588h2.3M324.9 588h2.3M328.9 588h2.3M334.9 588h2.3M340.9 588h2.3M346.9 588h2.3M350.9 588h2.3M212.8 590h2.3M218.8 590h8.3M228.8 590h14.3M244.8 590h46.3M294.9 590h4.3M326.9 590h2.3M332.9 590h2.3M338.9 590h2.3M346.9 590h2.3M350.9 590h2.3M364.9 590h2.3M208.8 592h2.3M214.8 592h2.3M218.8 592h2.3M222.8 592h4.3M228.8 592h2.3M232.8 592h10.3M246.8 592h34.3M288.9 592h2.3M332.9 592h2.3M338.9 592h2.3M344.9 592h2.3M350.9 592h6.3M364.9 592h2.3M208.8 594h4.3M214.8 594h2.3M218.8 594h2.3M222.8 594h8.3M232.8 594h8.3M242.8 594h4.3M252.8 594h20.3M278.9 594h10.3M330.9 594h2.3M336.9 594h2.3M344.9 594h2.3M354.9 594h4.3M364.9 594h2.3M398.9 594h2.3M204.8 596h2.3M212.8 596h4.3M220.8 596h2.3M224.8 596h4.3M230.8 596h8.3M240.8 596h2.3M246.8 596h46.3M298.9 596h4.3M324.9 596h2.3M328.9 596h2.3M336.9 596h2.3M342.9 596h2.3M346.9 596h2.3M350.9 596h2.3M356.9 596h6.3M364.9 596h2.3M384.9 596h2.3M388.9 596h2.3M562.9 596h2.3M212.8 598h2.3M216.8 598h2.3M220.8 598h2.3M224.8 598h16.3M242.8 598h8.3M256.9 598h38.3M322.9 598h2.3M328.9 598h2.3M334.9 598h2.3M342.9 598h2.3M348.9 598h4.3M354.9 598h2.3M358.9 598h2.3M368.9 598h2.3M376.9 598h2.3M210.8 600h2.3M216.8 600h2.3M220.8 600h2.3M226.8 600h16.3M250.8 600h36.3M298.9 600h4.3M318.9 600h4.3M326.9 600h2.3M332.9 600h2.3M340.9 600h2.3M356.9 600h2.3M198.8 602h2.3M212.8 602h2.3M216.8 602h2.3M222.8 602h2.3M226.8 602h12.3M252.8 602h12.3M268.9 602h10.3M292.9 602h4.3M316.9 602h2.3M330.9 602h2.3M338.9 602h2.3M344.9 602h2.3M356.9 602h4.3M218.8 604h2.3M222.8 604h2.3M228.8 604h12.3M250.8 604h2.3M260.9 604h26.3M300.9 604h2.3M314.9 604h2.3M330.9 604h2.3M336.9 604h2.3M342.9 604h6.3M400.9 604h2.3M408.9 604h2.3M444.9 604h2.3M218.8 606h2.3M224.8 606h2.3M228.8 606h2.3M232.8 606h8.3M254.8 606h6.3M294.9 606h6.3M326.9 606h2.3M336.9 606h2.3M340.9 606h2.3M346.9 606h2.3M358.9 606h2.3M378.9 606h2.3M220.8 608h2.3M226.8 608h2.3M230.8 608h2.3M234.8 608h2.3M250.8 608h4.3M270.9 608h10.3M286.9 608h8.3M304.9 608h4.3M324.9 608h2.3M334.9 608h2.3M338.9 608h2.3M342.9 608h4.3M352.9 608h2.3M206.8 610h2.3M214.8 610h2.3M220.8 610h2.3M226.8 610h2.3M232.8 610h2.3M236.8 610h2.3M256.9 610h14.3M280.9 610h6.3M312.9 610h4.3M322.9 610h2.3M330.9 610h6.3M338.9 610h2.3M212.8 612h2.3M216.8 612h2.3M222.8 612h2.3M228.8 612h2.3M234.8 612h2.3M238.8 612h2.3M248.8 612h8.3M290.9 612h4.3M308.9 612h4.3M318.9 612h4.3M328.9 612h2.3M340.9 612h4.3M350.9 612h2.3M356.9 612h2.3M370.9 612h2.3M448.9 612h2.3M224.8 614h2.3M230.8 614h2.3M236.8 614h2.3M274.9 614h16.3M304.9 614h4.3M316.9 614h2.3M326.9 614h2.3M330.9 614h4.3M342.9 614h2.3M212.8 616h2.3M226.8 616h2.3M232.8 616h2.3M238.8 616h4.3M248.8 616h26.3M298.9 616h6.3M312.9 616h4.3M322.9 616h4.3M346.9 616h2.3M226.8 618h2.3M234.8 618h2.3M242.8 618h4.3M290.9 618h8.3M308.9 618h4.3M318.9 618h4.3M326.9 618h2.3M330.9 618h4.3M348.9 618h2.3M204.8 620h2.3M228.8 620h4.3M236.8 620h4.3M246.8 620h8.3M274.9 620h16.3M302.9 620h6.3M314.9 620h4.3M322.9 620h6.3M342.9 620h2.3M354.9 620h2.3M374.9 620h2.3M226.8 622h4.3M232.8 622h2.3M240.8 622h4.3M254.8 622h20.3M294.9 622h8.3M310.9 622h4.3M320.9 622h2.3M326.9 622h2.3M332.9 622h2.3M336.9 622h4.3M366.9 622h2.3M376.9 622h2.3M244.8 624h6.3M284.9 624h10.3M304.9 624h6.3M314.9 624h4.3M324.9 624h2.3M332.9 624h2.3M350.9 624h2.3M362.9 624h2.3M220.8 626h2.3M228.8 626h2.3M240.8 626h2.3M250.8 626h34.3M296.9 626h8.3M308.9 626h2.3M314.9 626h2.3M320.9 626h2.3M334.9 626h4.3M362.9 626h2.3M396.9 626h2.3M416.9 626h2.3M542.9 626h2.3M242.8 628h6.3M284.9 628h12.3M314.9 628h2.3M322.9 628h2.3M326.9 628h2.3M206.8 630h2.3M218.8 630h4.3M228.8 630h4.3M234.8 630h2.3M238.8 630h6.3M246.8 630h42.3M290.9 630h6.3M298.9 630h2.3M302.9 630h8.3M314.9 630h6.3M322.9 630h4.3M328.9 630h6.3M336.9 630h2.3M344.9 630h10.3M358.9 630h2.3M374.9 630h2.3M355.9 48h2.3M352.9 162h2.3M388.9 175h2.3M398.9 186h2.3M402.9 218h2.3M416.9 267h2.3M406.9 335h2.3M428.9 377h2.3M505.9 385h2.3M465.9 433h2.3M495.9 448h2.3M453.9 457h2.3M521.9 509h2.3M485.9 516h2.3M461.9 520h2.3M521.9 536h2.3M496.9 560h2.3M442.9 610h2.3M439.9 604h2.3M381.9 179h2.3" stroke="#000" stroke-width="2.3" fill="none"/>
<path d="M232.8 230h2.3M232.8 232h4.3M268.9 234h4.3M240.8 236h4.3M266.9 236h6.3M234.8 238h14.3M264.9 238h8.3M234.8 240h14.3M264.9 240h8.3M234.8 242h2.3M240.8 242h8.3M266.9 242h6.3M230.8 244h2.3M242.8 244h6.3M266.9 244h8.3M228.8 246h4.3M236.8 246h2.3M242.8 246h6.3M266.9 246h8.3M234.8 248h6.3M244.8 248h6.3M264.9 248h10.3M292.9 248h4.3M234.8 250h6.3M246.8 250h4.3M264.9 250h8.3M284.9 250h2.3M290.9 250h8.3M232.8 252h8.3M264.9 252h10.3M282.9 252h6.3M292.9 252h4.3M230.8 254h10.3M264.9 254h8.3M280.9 254h10.3M232.8 256h6.3M264.9 256h8.3M280.9 256h10.3M236.8 258h2.3M242.8 258h4.3M264.9 258h8.3M282.9 258h8.3M242.8 260h4.3M264.9 260h8.3M286.9 260h4.3M264.9 262h8.3M286.9 262h6.3M266.9 264h6.3M284.9 264h10.3M296.9 264h4.3M266.9 266h4.3M280.9 266h12.3M296.9 266h4.3M278.9 268h14.3M278.9 270h14.3M278.9 272h12.3M278.9 274h12.3M284.9 276h8.3M284.9 278h8.3M288.9 280h4.3M254.8 314h6.3M244.8 316h16.3M242.8 318h18.3M296.9 318h6.3M240.8 320h8.3M252.8 320h4.3M296.9 320h8.3M240.8 322h6.3M298.9 322h2.3M240.8 324h6.3M274.9 332h4.3M266.9 334h14.3M266.9 336h18.3M270.9 338h16.3M268.9 340h18.3M268.9 342h18.3M240.8 344h4.3M268.9 344h4.3M276.9 344h6.3M240.8 346h4.3M246.8 348h4.3M246.8 350h4.3M246.8 352h4.3M244.8 354h4.3M244.8 356h4.3M232.8 456h6.3M230.8 458h10.3M230.8 460h10.3M230.8 462h8.3M232.8 464h6.3M286.9 466h2.3M282.9 468h8.3M266.9 470h8.3M278.9 470h18.3M266.9 472h10.3M278.9 472h18.3M264.9 474h36.3M264.9 476h20.3M288.9 476h12.3M262.9 478h20.3M290.9 478h10.3M264.9 480h20.3M288.9 480h12.3M268.9 482h24.3M270.9 484h16.3M288.9 484h2.3M278.9 486h4.3M306.9 486h8.3M304.9 488h12.3M300.9 490h16.3M296.9 492h18.3M296.9 494h16.3M296.9 496h16.3M296.9 498h16.3M294.9 500h20.3M294.9 502h20.3M300.9 504h14.3M302.9 506h10.3M322.9 510h2.3M322.9 512h4.3M318.9 514h10.3M316.9 516h14.3M318.9 518h12.3M318.9 520h12.3M284.9 522h6.3M316.9 522h20.3M282.9 524h10.3M316.9 524h22.3M282.9 526h12.3M316.9 526h22.3M282.9 528h14.3M316.9 528h6.3M326.9 528h8.3M282.9 530h12.3M316.9 530h6.3M326.9 530h6.3M280.9 532h12.3M326.9 532h4.3M280.9 534h10.3M286.9 536h4.3M250.8 550h6.3M248.8 552h10.3M248.8 554h12.3M250.8 556h10.3M250.8 558h8.3M292.9 566h6.3M290.9 568h10.3M288.9 570h12.3M284.9 572h16.3M284.9 574h16.3M284.9 576h10.3M284.9 578h8.3M304.9 580h2.3M302.9 582h4.3M300.9 584h12.3M314.9 584h4.3M300.9 586h18.3M300.9 588h22.3M300.9 590h24.3M290.9 592h4.3M298.9 592h32.3M292.9 594h36.3M292.9 596h6.3M302.9 596h22.3M294.9 598h4.3M302.9 598h18.3M244.8 600h4.3M288.9 600h2.3M294.9 600h4.3M302.9 600h16.3M242.8 602h8.3M286.9 602h6.3M296.9 602h2.3M302.9 602h14.3M324.9 602h6.3M240.8 604h10.3M286.9 604h6.3M302.9 604h12.3M320.9 604h10.3M240.8 606h10.3M286.9 606h6.3M304.9 606h22.3M328.9 606h2.3M238.8 608h12.3M294.9 608h8.3M314.9 608h10.3M238.8 610h12.3M294.9 610h10.3M316.9 610h6.3M240.8 612h8.3M294.9 612h12.3M240.8 614h8.3M296.9 614h2.3M300.9 614h4.3M318.9 614h2.3M242.8 616h6.3M230.8 624h8.3M230.8 626h10.3M232.8 628h8.3M236.8 630h2.3" stroke="#8a8a8a" stroke-width="2.3" fill="none"/>
</g>
<g id="plot-right">
<path d="M953.9 28H1580.3M955.1 28V651.6M1579.2 28V652.8M939.3 651.6H1579.2M981.4 651.6V670M986.2 651.6V660.4M991.1 651.6V660.4M996 651.6V660.4M1000.7 651.6V660.4M1005.6 651.6V665M1012.8 651.6V660.4M1017.8 651.6V660.4M1022.6 651.6V660.4M1051.6 651.6V660.4M1058.5 651.6V660.4M1063.6 651.6V665M1068.5 651.6V660.4M1076 651.6V660.4M1080.9 651.6V660.4M1085.8 651.6V660.4M1090.5 651.6V670M1131.3 651.6V660.4M1157.6 651.6V660.4M1179.5 651.6V660.4M1193.9 651.6V665M1207.3 651.6V660.4M1218.3 651.6V660.4M1227.6 651.6V660.4M1235.9 651.6V660.4M1242.5 651.6V670M1286.1 651.6V660.4M1311.6 651.6V660.4M1329.7 651.6V660.4M1343.7 651.6V665M1355.2 651.6V660.4M1364.9 651.6V660.4M1373.3 651.6V660.4M1380.7 651.6V660.4M1387.3 651.6V670M1429 651.6V660.4M1453.4 651.6V660.4M1470.7 651.6V660.4M1484.1 651.6V665M1495.1 651.6V660.4M1504.3 651.6V660.4M1512.4 651.6V660.4M1519.5 651.6V660.4M1525.8 651.6V670M1568.8 651.6V660.4M955.1 40H949.3M955.1 81.2H939.3M955.1 87.5H949.3M955.1 94.6H949.3M955.1 102.5H949.3M955.1 111.8H949.3M955.1 122.7H944.3M955.1 136H949.3M955.1 153.3H949.3M955.1 177.5H949.3M955.1 219H939.3M955.1 225.6H949.3M955.1 233H949.3M955.1 241.4H949.3M955.1 251.1H949.3M955.1 262.5H944.3M955.1 276.5H949.3M955.1 294.6H949.3M955.1 320H949.3M955.1 363.5H939.3M955.1 370.4H949.3M955.1 378.1H949.3M955.1 386.8H949.3M955.1 396.8H949.3M955.1 408.7H944.3M955.1 423.3H949.3M955.1 442.1H949.3M955.1 468.6H949.3M955.1 513.8H939.3M955.1 520.3H949.3M955.1 526H949.3M955.1 531.4H949.3M955.1 537H949.3M955.1 544.9H944.3M955.1 550.5H949.3M955.1 555.9H949.3M955.1 561.6H949.3M955.1 597.7H949.3M955.1 603.8H949.3M955.1 610.4H949.3M955.1 619.3H944.3M955.1 627.1H949.3M955.1 635H949.3M955.1 641.9H949.3M955.1 647.3H949.3" fill="none" stroke="#000" stroke-width="2.3"/>
<path d="M1028.8 651.6V670H1030.9V665.5H1033.9V670H1036.1V651.6Z" fill="#000"/>
<path d="M955.1 583.8H939.3V586H943.8V589.4H941.8V591.4H955.1Z" fill="#000"/>
<path d="M1033.8 152h2.3M1081.8 162h2.3M1031.8 170h2.3M1083.8 174h2.3M1029.8 176h2.3M1041.8 176h2.3M1081.8 176h2.3M1041.8 180h2.3M1051.8 180h2.3M1043.8 182h2.3M1085.8 182h2.3M1019.9 184h2.3M1023.9 186h2.3M1043.8 186h2.3M1083.8 186h2.3M1103.8 186h2.3M1015.9 188h2.3M1051.8 188h2.3M1059.8 188h2.3M1093.8 188h2.3M1121.8 188h2.3M1019.9 190h2.3M1043.8 190h2.3M1153.8 190h2.3M1021.9 192h2.3M1037.8 194h2.3M1047.8 194h2.3M1085.8 194h2.3M1099.8 194h2.3M1157.8 194h2.3M1023.9 196h2.3M1055.8 196h2.3M1071.8 196h2.3M1115.8 196h2.3M999.9 198h2.3M1035.8 198h2.3M1039.8 198h2.3M1055.8 198h4.3M1075.8 198h2.3M1079.8 198h2.3M1105.8 198h2.3M997.9 200h2.3M1017.9 200h2.3M1051.8 200h2.3M1061.8 200h2.3M1075.8 200h2.3M1089.8 200h2.3M1099.8 200h2.3M1105.8 200h2.3M1113.8 200h2.3M993.9 202h2.3M1029.8 202h4.3M1047.8 202h2.3M1053.8 202h2.3M1061.8 202h2.3M1065.8 202h2.3M1083.8 202h2.3M1119.8 202h4.3M1127.8 202h2.3M1019.9 204h2.3M1027.8 204h2.3M1041.8 204h2.3M1045.8 204h2.3M1049.8 204h2.3M1053.8 204h2.3M1057.8 204h4.3M1065.8 204h4.3M1071.8 204h2.3M1083.8 204h2.3M1087.8 204h2.3M1095.8 204h2.3M1119.8 204h2.3M1017.9 206h4.3M1031.8 206h2.3M1055.8 206h12.3M1079.8 206h4.3M1085.8 206h2.3M1093.8 206h2.3M1099.8 206h2.3M1111.8 206h2.3M1011.9 208h2.3M1031.8 208h2.3M1035.8 208h20.3M1067.8 208h16.3M1089.8 208h2.3M1093.8 208h2.3M1097.8 208h2.3M1017.9 210h2.3M1021.9 210h2.3M1029.8 210h6.3M1083.8 210h6.3M1093.8 210h4.3M1103.8 210h2.3M1013.9 212h2.3M1019.9 212h2.3M1025.8 212h4.3M1089.8 212h6.3M1101.8 212h2.3M1109.8 212h2.3M1121.8 212h2.3M1005.9 214h2.3M1009.9 214h2.3M1021.9 214h4.3M1095.8 214h4.3M1105.8 214h2.3M1199.8 214h2.3M999.9 216h2.3M1013.9 216h2.3M1017.9 216h4.3M1099.8 216h2.3M1103.8 216h2.3M1109.8 216h2.3M1171.8 216h2.3M1009.9 218h2.3M1015.9 218h2.3M1039.8 218h32.3M1101.8 218h4.3M1119.8 218h2.3M1123.8 218h4.3M1129.8 218h2.3M1161.8 218h2.3M1011.9 220h4.3M1031.8 220h8.3M1071.8 220h8.3M1105.8 220h2.3M1113.8 220h2.3M1117.8 220h2.3M1139.8 220h2.3M999.9 222h2.3M1009.9 222h2.3M1027.8 222h4.3M1047.8 222h16.3M1079.8 222h6.3M1107.8 222h2.3M1115.8 222h2.3M1007.9 224h2.3M1023.9 224h4.3M1035.8 224h12.3M1063.8 224h12.3M1085.8 224h4.3M1109.8 224h4.3M1159.8 224h2.3M985.9 226h2.3M1005.9 226h2.3M1019.9 226h4.3M1029.8 226h6.3M1075.8 226h4.3M1089.8 226h2.3M1113.8 226h4.3M1119.8 226h2.3M1149.8 226h2.3M997.9 228h2.3M1003.9 228h2.3M1015.9 228h4.3M1027.8 228h2.3M1043.8 228h18.3M1079.8 228h4.3M1091.8 228h2.3M1115.8 228h2.3M1125.8 228h2.3M1135.8 228h2.3M1149.8 228h2.3M991.9 230h2.3M999.9 230h4.3M1013.9 230h2.3M1023.9 230h4.3M1035.8 230h8.3M1061.8 230h10.3M1083.8 230h4.3M1093.8 230h4.3M1117.8 230h2.3M1125.8 230h2.3M1143.8 230h2.3M1149.8 230h2.3M989.9 232h2.3M999.9 232h2.3M1011.9 232h2.3M1019.9 232h4.3M1031.8 232h4.3M1071.8 232h6.3M1087.8 232h2.3M1097.8 232h2.3M1119.8 232h2.3M1131.8 232h2.3M999.9 234h2.3M1009.9 234h2.3M1017.9 234h2.3M1027.8 234h4.3M1039.8 234h22.3M1077.8 234h2.3M1089.8 234h4.3M1099.8 234h2.3M1119.8 234h2.3M1129.8 234h2.3M991.9 236h2.3M997.9 236h2.3M1007.9 236h2.3M1015.9 236h2.3M1025.8 236h2.3M1033.8 236h6.3M1061.8 236h6.3M1079.8 236h4.3M1093.8 236h2.3M1101.8 236h2.3M1121.8 236h2.3M997.9 238h2.3M1005.9 238h2.3M1013.9 238h2.3M1021.9 238h4.3M1031.8 238h2.3M1067.8 238h4.3M1083.8 238h4.3M1095.8 238h2.3M1103.8 238h2.3M1123.8 238h2.3M1157.8 238h2.3M981.9 240h2.3M989.9 240h2.3M993.9 240h4.3M1003.9 240h2.3M1011.9 240h2.3M1019.9 240h2.3M1029.8 240h2.3M1037.8 240h20.3M1071.8 240h6.3M1087.8 240h2.3M1097.8 240h2.3M1105.8 240h2.3M1125.8 240h2.3M1159.8 240h2.3M995.9 242h2.3M1003.9 242h2.3M1009.9 242h2.3M1015.9 242h4.3M1025.8 242h4.3M1033.8 242h4.3M1057.8 242h6.3M1077.8 242h4.3M1089.8 242h2.3M1099.8 242h2.3M1105.8 242h2.3M1125.8 242h2.3M1129.8 242h4.3M995.9 244h2.3M1001.9 244h2.3M1007.9 244h2.3M1013.9 244h2.3M1023.9 244h2.3M1031.8 244h2.3M1041.8 244h12.3M1063.8 244h4.3M1081.8 244h4.3M1091.8 244h4.3M1101.8 244h2.3M1107.8 244h2.3M1127.8 244h2.3M1137.8 244h2.3M1167.8 244h2.3M979.9 246h2.3M991.9 246h4.3M1001.9 246h2.3M1007.9 246h2.3M1013.9 246h2.3M1019.9 246h4.3M1027.8 246h4.3M1035.8 246h6.3M1053.8 246h4.3M1067.8 246h10.3M1085.8 246h2.3M1095.8 246h2.3M1101.8 246h2.3M1109.8 246h2.3M1129.8 246h2.3M1133.8 246h6.3M1147.8 246h2.3M1157.8 246h2.3M1191.8 246h2.3M993.9 248h2.3M999.9 248h2.3M1005.9 248h2.3M1017.9 248h2.3M1025.8 248h2.3M1033.8 248h2.3M1043.8 248h8.3M1057.8 248h6.3M1077.8 248h4.3M1087.8 248h2.3M1095.8 248h2.3M1103.8 248h2.3M1111.8 248h2.3M1129.8 248h2.3M1137.8 248h2.3M1141.8 248h6.3M1151.8 248h2.3M1183.8 248h2.3M989.9 250h2.3M993.9 250h2.3M999.9 250h2.3M1005.9 250h2.3M1009.9 250h2.3M1015.9 250h2.3M1029.8 250h2.3M1039.8 250h4.3M1051.8 250h6.3M1063.8 250h4.3M1081.8 250h2.3M1089.8 250h2.3M1097.8 250h2.3M1105.8 250h2.3M1111.8 250h2.3M1131.8 250h4.3M1137.8 250h2.3M1147.8 250h2.3M991.9 252h2.3M999.9 252h2.3M1003.9 252h2.3M1009.9 252h2.3M1013.9 252h2.3M1057.8 252h4.3M1067.8 252h8.3M1083.8 252h2.3M1091.8 252h2.3M1099.8 252h2.3M1105.8 252h2.3M1113.8 252h2.3M1131.8 252h2.3M1173.8 252h2.3M991.9 254h2.3M997.9 254h2.3M1003.9 254h2.3M1007.9 254h2.3M1013.9 254h2.3M1039.8 254h16.3M1075.8 254h4.3M1085.8 254h2.3M1091.8 254h2.3M1099.8 254h2.3M1107.8 254h2.3M1113.8 254h2.3M1131.8 254h2.3M991.9 256h2.3M997.9 256h2.3M1003.9 256h2.3M1017.9 256h2.3M1035.8 256h4.3M1055.8 256h2.3M1079.8 256h2.3M1085.8 256h2.3M1093.8 256h2.3M1101.8 256h2.3M1109.8 256h2.3M1115.8 256h2.3M1133.8 256h4.3M1141.8 256h2.3M991.9 258h2.3M997.9 258h2.3M1001.9 258h2.3M1007.9 258h2.3M1011.9 258h2.3M1015.9 258h2.3M1033.8 258h2.3M1039.8 258h12.3M1069.8 258h4.3M1081.8 258h2.3M1087.8 258h2.3M1095.8 258h2.3M1101.8 258h2.3M1109.8 258h2.3M1115.8 258h2.3M1133.8 258h2.3M1157.8 258h2.3M991.9 260h2.3M997.9 260h2.3M1001.9 260h2.3M1005.9 260h2.3M1009.9 260h2.3M1015.9 260h2.3M1019.9 260h2.3M1035.8 260h4.3M1051.8 260h4.3M1073.8 260h2.3M1081.8 260h2.3M1087.8 260h2.3M1095.8 260h2.3M1103.8 260h2.3M1111.8 260h2.3M1117.8 260h2.3M1133.8 260h2.3M1137.8 260h2.3M1147.8 260h2.3M1157.8 260h2.3M987.9 262h4.3M995.9 262h2.3M1001.9 262h2.3M1005.9 262h2.3M1009.9 262h2.3M1013.9 262h2.3M1017.9 262h2.3M1033.8 262h2.3M1043.8 262h4.3M1067.8 262h2.3M1075.8 262h2.3M1083.8 262h2.3M1089.8 262h2.3M1097.8 262h2.3M1103.8 262h2.3M1111.8 262h2.3M1117.8 262h2.3M1135.8 262h2.3M1139.8 262h4.3M1161.8 262h2.3M1181.8 262h2.3M989.9 264h2.3M995.9 264h2.3M1001.9 264h2.3M1005.9 264h2.3M1009.9 264h2.3M1013.9 264h2.3M1017.9 264h2.3M1021.9 264h2.3M1031.8 264h2.3M1039.8 264h4.3M1047.8 264h8.3M1061.8 264h2.3M1069.8 264h2.3M1075.8 264h2.3M1083.8 264h2.3M1089.8 264h2.3M1097.8 264h2.3M1105.8 264h2.3M1111.8 264h2.3M1117.8 264h2.3M1135.8 264h2.3M1185.8 264h2.3M989.9 266h2.3M995.9 266h2.3M999.9 266h2.3M1005.9 266h2.3M1009.9 266h2.3M1013.9 266h2.3M1017.9 266h4.3M1025.8 266h2.3M1029.8 266h2.3M1037.8 266h2.3M1055.8 266h4.3M1063.8 266h2.3M1069.8 266h2.3M1077.8 266h2.3M1085.8 266h2.3M1091.8 266h2.3M1099.8 266h2.3M1105.8 266h2.3M1113.8 266h2.3M1119.8 266h2.3M1135.8 266h2.3M1141.8 266h2.3M1145.8 266h2.3M1171.8 266h2.3M989.9 268h2.3M995.9 268h2.3M999.9 268h2.3M1003.9 268h2.3M1009.9 268h4.3M1015.9 268h2.3M1019.9 268h2.3M1023.9 268h2.3M1029.8 268h2.3M1035.8 268h2.3M1043.8 268h10.3M1059.8 268h2.3M1065.8 268h2.3M1071.8 268h2.3M1079.8 268h2.3M1085.8 268h2.3M1091.8 268h2.3M1099.8 268h2.3M1107.8 268h2.3M1113.8 268h2.3M1119.8 268h2.3M1141.8 268h2.3M1145.8 268h2.3M1149.8 268h2.3M1157.8 268h2.3M987.9 270h4.3M995.9 270h2.3M999.9 270h2.3M1003.9 270h2.3M1007.9 270h2.3M1011.9 270h2.3M1015.9 270h2.3M1019.9 270h2.3M1023.9 270h2.3M1027.8 270h2.3M1033.8 270h2.3M1039.8 270h4.3M1053.8 270h4.3M1061.8 270h2.3M1067.8 270h2.3M1073.8 270h2.3M1081.8 270h2.3M1087.8 270h2.3M1093.8 270h2.3M1101.8 270h2.3M1107.8 270h2.3M1113.8 270h2.3M1119.8 270h2.3M983.9 272h2.3M989.9 272h2.3M995.9 272h2.3M999.9 272h2.3M1003.9 272h2.3M1007.9 272h2.3M1011.9 272h2.3M1015.9 272h2.3M1019.9 272h2.3M1023.9 272h2.3M1027.8 272h2.3M1031.8 272h2.3M1037.8 272h2.3M1057.8 272h2.3M1063.8 272h2.3M1069.8 272h2.3M1073.8 272h2.3M1081.8 272h2.3M1087.8 272h2.3M1093.8 272h2.3M1101.8 272h2.3M1109.8 272h2.3M1115.8 272h2.3M1119.8 272h2.3M989.9 274h2.3M995.9 274h2.3M999.9 274h2.3M1003.9 274h2.3M1007.9 274h2.3M1011.9 274h2.3M1015.9 274h4.3M1021.9 274h2.3M1025.8 274h2.3M1029.8 274h2.3M1035.8 274h2.3M1043.8 274h8.3M1057.8 274h2.3M1063.8 274h2.3M1069.8 274h2.3M1087.8 274h2.3M1093.8 274h2.3M1103.8 274h2.3M1109.8 274h2.3M1115.8 274h2.3M1119.8 274h2.3M1143.8 274h2.3M989.9 276h2.3M995.9 276h2.3M999.9 276h2.3M1003.9 276h2.3M1007.9 276h2.3M1011.9 276h2.3M1015.9 276h4.3M1021.9 276h2.3M1025.8 276h2.3M1029.8 276h2.3M1035.8 276h2.3M1041.8 276h2.3M1051.8 276h2.3M1059.8 276h2.3M1065.8 276h2.3M1071.8 276h2.3M1095.8 276h2.3M1103.8 276h2.3M1109.8 276h2.3M1115.8 276h2.3M1119.8 276h2.3M1143.8 276h2.3M1171.8 276h2.3M989.9 278h2.3M995.9 278h2.3M999.9 278h2.3M1003.9 278h2.3M1007.9 278h2.3M1011.9 278h4.3M1017.9 278h2.3M1021.9 278h4.3M1027.8 278h2.3M1033.8 278h2.3M1039.8 278h2.3M1053.8 278h2.3M1061.8 278h2.3M1067.8 278h2.3M1071.8 278h2.3M1087.8 278h2.3M1095.8 278h2.3M1103.8 278h2.3M1109.8 278h2.3M1115.8 278h2.3M1121.8 278h2.3M1137.8 278h2.3M1143.8 278h2.3M1153.8 278h2.3M989.9 280h2.3M993.9 280h2.3M999.9 280h2.3M1003.9 280h2.3M1007.9 280h2.3M1011.9 280h4.3M1017.9 280h2.3M1021.9 280h4.3M1027.8 280h2.3M1031.8 280h2.3M1037.8 280h2.3M1055.8 280h2.3M1061.8 280h2.3M1067.8 280h2.3M1071.8 280h2.3M1087.8 280h2.3M1095.8 280h2.3M1103.8 280h2.3M1109.8 280h2.3M1115.8 280h2.3M1121.8 280h2.3M1137.8 280h2.3M1159.8 280h2.3M1163.8 280h2.3M989.9 282h2.3M993.9 282h2.3M999.9 282h2.3M1003.9 282h2.3M1007.9 282h4.3M1013.9 282h2.3M1017.9 282h4.3M1023.9 282h2.3M1027.8 282h2.3M1031.8 282h2.3M1035.8 282h2.3M1055.8 282h2.3M1061.8 282h2.3M1067.8 282h2.3M1071.8 282h2.3M1077.8 282h2.3M1083.8 282h2.3M1089.8 282h2.3M1097.8 282h2.3M1103.8 282h2.3M1109.8 282h2.3M1115.8 282h2.3M1121.8 282h2.3M1137.8 282h4.3M1145.8 282h2.3M1159.8 282h2.3M985.9 284h2.3M989.9 284h2.3M993.9 284h2.3M999.9 284h2.3M1003.9 284h2.3M1007.9 284h4.3M1013.9 284h2.3M1017.9 284h4.3M1023.9 284h4.3M1029.8 284h2.3M1035.8 284h2.3M1043.8 284h4.3M1055.8 284h2.3M1063.8 284h2.3M1067.8 284h2.3M1073.8 284h2.3M1079.8 284h2.3M1083.8 284h2.3M1089.8 284h2.3M1097.8 284h2.3M1103.8 284h2.3M1109.8 284h2.3M1115.8 284h2.3M1119.8 284h2.3M1137.8 284h2.3M1141.8 284h2.3M1145.8 284h2.3M989.9 286h2.3M993.9 286h2.3M999.9 286h2.3M1003.9 286h2.3M1007.9 286h4.3M1013.9 286h4.3M1019.9 286h2.3M1023.9 286h4.3M1029.8 286h2.3M1033.8 286h2.3M1041.8 286h2.3M1047.8 286h2.3M1057.8 286h2.3M1063.8 286h2.3M1067.8 286h2.3M1073.8 286h2.3M1079.8 286h2.3M1085.8 286h2.3M1089.8 286h2.3M1097.8 286h2.3M1103.8 286h2.3M1109.8 286h2.3M1115.8 286h2.3M1119.8 286h2.3M1135.8 286h2.3M1155.8 286h2.3M1167.8 286h2.3M989.9 288h2.3M993.9 288h2.3M999.9 288h2.3M1003.9 288h2.3M1007.9 288h4.3M1013.9 288h4.3M1019.9 288h2.3M1023.9 288h4.3M1029.8 288h2.3M1033.8 288h2.3M1039.8 288h2.3M1049.8 288h2.3M1057.8 288h2.3M1063.8 288h2.3M1069.8 288h2.3M1073.8 288h2.3M1079.8 288h2.3M1085.8 288h2.3M1089.8 288h2.3M1097.8 288h2.3M1103.8 288h2.3M1109.8 288h2.3M1115.8 288h2.3M1119.8 288h2.3M1135.8 288h2.3M1145.8 288h2.3M1185.8 288h2.3M981.9 290h4.3M989.9 290h2.3M993.9 290h2.3M999.9 290h2.3M1003.9 290h2.3M1007.9 290h4.3M1013.9 290h4.3M1019.9 290h2.3M1023.9 290h4.3M1029.8 290h2.3M1033.8 290h2.3M1037.8 290h2.3M1049.8 290h2.3M1057.8 290h2.3M1063.8 290h2.3M1069.8 290h2.3M1075.8 290h2.3M1081.8 290h2.3M1085.8 290h2.3M1091.8 290h2.3M1095.8 290h2.3M1103.8 290h2.3M1109.8 290h2.3M1115.8 290h2.3M1119.8 290h2.3M1135.8 290h2.3M1143.8 290h2.3M1187.8 290h2.3M1205.8 290h2.3M985.9 292h2.3M989.9 292h2.3M993.9 292h2.3M999.9 292h2.3M1003.9 292h2.3M1007.9 292h4.3M1013.9 292h4.3M1019.9 292h2.3M1023.9 292h4.3M1029.8 292h4.3M1037.8 292h2.3M1051.8 292h2.3M1057.8 292h2.3M1065.8 292h2.3M1069.8 292h2.3M1075.8 292h2.3M1081.8 292h2.3M1085.8 292h2.3M1089.8 292h2.3M1095.8 292h2.3M1103.8 292h2.3M1109.8 292h2.3M1115.8 292h2.3M1119.8 292h2.3M1135.8 292h2.3M1143.8 292h2.3M1153.8 292h2.3M1205.8 292h2.3M1245.8 292h2.3M1275.8 292h2.3M989.9 294h2.3M993.9 294h2.3M999.9 294h2.3M1003.9 294h2.3M1007.9 294h4.3M1013.9 294h4.3M1019.9 294h2.3M1023.9 294h10.3M1037.8 294h2.3M1053.8 294h2.3M1059.8 294h2.3M1065.8 294h2.3M1069.8 294h2.3M1075.8 294h2.3M1081.8 294h2.3M1085.8 294h2.3M1089.8 294h2.3M1095.8 294h2.3M1101.8 294h2.3M1109.8 294h2.3M1113.8 294h2.3M1119.8 294h2.3M1135.8 294h2.3M1143.8 294h2.3M983.9 296h2.3M989.9 296h2.3M995.9 296h2.3M999.9 296h2.3M1003.9 296h2.3M1007.9 296h4.3M1013.9 296h4.3M1019.9 296h2.3M1023.9 296h10.3M1037.8 296h2.3M1053.8 296h2.3M1059.8 296h2.3M1065.8 296h2.3M1071.8 296h2.3M1075.8 296h2.3M1081.8 296h2.3M1085.8 296h2.3M1089.8 296h2.3M1095.8 296h2.3M1101.8 296h2.3M1107.8 296h2.3M1113.8 296h2.3M1119.8 296h2.3M1135.8 296h6.3M989.9 298h2.3M995.9 298h2.3M999.9 298h2.3M1003.9 298h2.3M1007.9 298h4.3M1013.9 298h4.3M1019.9 298h2.3M1023.9 298h10.3M1037.8 298h2.3M1055.8 298h2.3M1061.8 298h2.3M1065.8 298h2.3M1071.8 298h2.3M1075.8 298h2.3M1081.8 298h2.3M1085.8 298h2.3M1089.8 298h2.3M1095.8 298h2.3M1101.8 298h2.3M1107.8 298h2.3M1113.8 298h2.3M1117.8 298h2.3M1133.8 298h2.3M1151.8 298h2.3M1169.8 298h2.3M1213.8 298h2.3M977.9 300h2.3M989.9 300h2.3M995.9 300h2.3M999.9 300h2.3M1003.9 300h2.3M1007.9 300h4.3M1013.9 300h2.3M1017.9 300h4.3M1023.9 300h10.3M1037.8 300h2.3M1055.8 300h2.3M1061.8 300h2.3M1065.8 300h2.3M1071.8 300h2.3M1075.8 300h2.3M1079.8 300h2.3M1085.8 300h2.3M1089.8 300h2.3M1093.8 300h2.3M1101.8 300h2.3M1107.8 300h2.3M1113.8 300h2.3M1117.8 300h2.3M1147.8 300h2.3M1163.8 300h4.3M1183.8 300h2.3M1211.8 300h2.3M989.9 302h2.3M995.9 302h2.3M999.9 302h2.3M1003.9 302h2.3M1007.9 302h4.3M1013.9 302h2.3M1017.9 302h4.3M1023.9 302h10.3M1037.8 302h2.3M1043.8 302h6.3M1055.8 302h2.3M1061.8 302h2.3M1065.8 302h2.3M1069.8 302h2.3M1075.8 302h2.3M1079.8 302h2.3M1083.8 302h2.3M1089.8 302h2.3M1093.8 302h2.3M1101.8 302h2.3M1107.8 302h2.3M1113.8 302h2.3M1117.8 302h2.3M1133.8 302h2.3M1147.8 302h2.3M1271.8 302h2.3M981.9 304h6.3M989.9 304h2.3M995.9 304h2.3M999.9 304h2.3M1003.9 304h2.3M1007.9 304h2.3M1011.9 304h4.3M1017.9 304h2.3M1021.9 304h4.3M1027.8 304h4.3M1033.8 304h2.3M1037.8 304h2.3M1043.8 304h2.3M1049.8 304h2.3M1055.8 304h2.3M1061.8 304h2.3M1065.8 304h2.3M1069.8 304h2.3M1075.8 304h2.3M1079.8 304h2.3M1083.8 304h2.3M1087.8 304h2.3M1093.8 304h2.3M1099.8 304h2.3M1107.8 304h2.3M1111.8 304h2.3M1117.8 304h2.3M1133.8 304h2.3M1141.8 304h2.3M1145.8 304h2.3M1267.8 304h2.3M985.9 306h6.3M995.9 306h2.3M999.9 306h2.3M1003.9 306h2.3M1007.9 306h2.3M1011.9 306h4.3M1017.9 306h2.3M1021.9 306h4.3M1027.8 306h4.3M1033.8 306h2.3M1037.8 306h2.3M1043.8 306h2.3M1051.8 306h2.3M1055.8 306h2.3M1061.8 306h2.3M1065.8 306h2.3M1069.8 306h2.3M1073.8 306h2.3M1079.8 306h2.3M1083.8 306h2.3M1087.8 306h2.3M1093.8 306h2.3M1099.8 306h2.3M1105.8 306h2.3M1111.8 306h2.3M1115.8 306h2.3M1131.8 306h2.3M1135.8 306h2.3M1141.8 306h2.3M1153.8 306h2.3M1167.8 306h2.3M1175.8 306h2.3M1203.8 306h2.3M989.9 308h2.3M995.9 308h2.3M999.9 308h2.3M1003.9 308h2.3M1007.9 308h2.3M1011.9 308h2.3M1015.9 308h10.3M1027.8 308h4.3M1033.8 308h2.3M1039.8 308h2.3M1043.8 308h2.3M1051.8 308h2.3M1055.8 308h2.3M1061.8 308h2.3M1065.8 308h2.3M1069.8 308h2.3M1073.8 308h2.3M1077.8 308h2.3M1083.8 308h2.3M1087.8 308h2.3M1093.8 308h2.3M1099.8 308h2.3M1105.8 308h2.3M1111.8 308h2.3M1115.8 308h2.3M1131.8 308h2.3M1137.8 308h4.3M987.9 310h4.3M995.9 310h2.3M999.9 310h2.3M1003.9 310h2.3M1007.9 310h2.3M1011.9 310h2.3M1015.9 310h10.3M1027.8 310h4.3M1033.8 310h2.3M1039.8 310h2.3M1043.8 310h2.3M1051.8 310h2.3M1055.8 310h2.3M1059.8 310h2.3M1065.8 310h2.3M1069.8 310h2.3M1073.8 310h2.3M1077.8 310h2.3M1091.8 310h2.3M1099.8 310h2.3M1105.8 310h2.3M1109.8 310h2.3M1115.8 310h2.3M1131.8 310h2.3M1151.8 310h2.3M979.9 312h2.3M985.9 312h2.3M989.9 312h2.3M995.9 312h2.3M999.9 312h2.3M1003.9 312h2.3M1007.9 312h2.3M1011.9 312h2.3M1015.9 312h10.3M1027.8 312h2.3M1031.8 312h4.3M1039.8 312h2.3M1043.8 312h2.3M1049.8 312h2.3M1053.8 312h2.3M1059.8 312h2.3M1065.8 312h2.3M1069.8 312h2.3M1073.8 312h2.3M1077.8 312h2.3M1081.8 312h2.3M1087.8 312h2.3M1091.8 312h2.3M1097.8 312h2.3M1103.8 312h2.3M1109.8 312h2.3M1115.8 312h2.3M1131.8 312h4.3M1177.8 312h2.3M1221.8 312h2.3M1247.8 312h2.3M989.9 314h2.3M995.9 314h2.3M999.9 314h2.3M1003.9 314h2.3M1007.9 314h2.3M1011.9 314h2.3M1015.9 314h10.3M1027.8 314h2.3M1031.8 314h4.3M1039.8 314h2.3M1045.8 314h6.3M1053.8 314h2.3M1059.8 314h2.3M1063.8 314h2.3M1067.8 314h2.3M1071.8 314h2.3M1075.8 314h2.3M1081.8 314h2.3M1087.8 314h2.3M1091.8 314h2.3M1097.8 314h2.3M1103.8 314h2.3M1109.8 314h2.3M1113.8 314h2.3M1129.8 314h2.3M1135.8 314h2.3M1145.8 314h2.3M1157.8 314h2.3M981.9 316h2.3M989.9 316h2.3M995.9 316h2.3M999.9 316h2.3M1003.9 316h2.3M1007.9 316h2.3M1011.9 316h2.3M1015.9 316h10.3M1027.8 316h2.3M1031.8 316h4.3M1039.8 316h2.3M1053.8 316h2.3M1057.8 316h2.3M1063.8 316h2.3M1067.8 316h2.3M1071.8 316h2.3M1075.8 316h2.3M1079.8 316h2.3M1085.8 316h2.3M1091.8 316h2.3M1097.8 316h2.3M1103.8 316h2.3M1109.8 316h2.3M1113.8 316h2.3M1129.8 316h2.3M1133.8 316h2.3M1175.8 316h2.3M1185.8 316h2.3M989.9 318h2.3M995.9 318h2.3M999.9 318h2.3M1003.9 318h2.3M1007.9 318h2.3M1011.9 318h2.3M1015.9 318h4.3M1021.9 318h4.3M1027.8 318h2.3M1031.8 318h4.3M1039.8 318h2.3M1053.8 318h2.3M1057.8 318h2.3M1063.8 318h2.3M1067.8 318h2.3M1071.8 318h2.3M1075.8 318h2.3M1079.8 318h2.3M1085.8 318h2.3M1091.8 318h2.3M1095.8 318h2.3M1101.8 318h2.3M1107.8 318h2.3M1113.8 318h2.3M1129.8 318h4.3M1135.8 318h2.3M1171.8 318h2.3M1215.8 318h4.3M987.9 320h4.3M995.9 320h2.3M999.9 320h2.3M1003.9 320h2.3M1007.9 320h2.3M1011.9 320h2.3M1015.9 320h4.3M1021.9 320h4.3M1027.8 320h2.3M1031.8 320h4.3M1041.8 320h2.3M1049.8 320h4.3M1057.8 320h2.3M1061.8 320h2.3M1067.8 320h4.3M1073.8 320h2.3M1079.8 320h2.3M1083.8 320h2.3M1089.8 320h2.3M1095.8 320h2.3M1101.8 320h2.3M1107.8 320h2.3M1113.8 320h2.3M1129.8 320h6.3M1201.8 320h2.3M1211.8 320h2.3M1223.8 320h2.3M989.9 322h2.3M995.9 322h2.3M999.9 322h2.3M1003.9 322h2.3M1007.9 322h2.3M1011.9 322h2.3M1015.9 322h4.3M1021.9 322h2.3M1025.8 322h4.3M1031.8 322h2.3M1035.8 322h2.3M1041.8 322h2.3M1045.8 322h4.3M1057.8 322h2.3M1083.8 322h2.3M1089.8 322h2.3M1095.8 322h2.3M1101.8 322h2.3M1107.8 322h2.3M1111.8 322h2.3M1127.8 322h2.3M989.9 324h2.3M995.9 324h2.3M999.9 324h2.3M1005.9 324h4.3M1011.9 324h2.3M1015.9 324h2.3M1019.9 324h4.3M1025.8 324h4.3M1031.8 324h2.3M1035.8 324h2.3M1041.8 324h4.3M1083.8 324h2.3M1087.8 324h2.3M1093.8 324h2.3M1101.8 324h2.3M1107.8 324h2.3M1111.8 324h2.3M1127.8 324h2.3M1131.8 324h2.3M1141.8 324h2.3M1145.8 324h2.3M1151.8 324h2.3M1155.8 324h2.3M1161.8 324h2.3M1189.8 324h2.3M1205.8 324h2.3M989.9 326h2.3M995.9 326h2.3M999.9 326h2.3M1005.9 326h2.3M1009.9 326h4.3M1015.9 326h2.3M1019.9 326h4.3M1025.8 326h4.3M1031.8 326h2.3M1035.8 326h2.3M1053.8 326h4.3M1083.8 326h2.3M1087.8 326h2.3M1093.8 326h2.3M1099.8 326h2.3M1105.8 326h2.3M1111.8 326h2.3M1127.8 326h2.3M1139.8 326h2.3M1147.8 326h2.3M1225.8 326h4.3M989.9 328h2.3M995.9 328h2.3M999.9 328h2.3M1005.9 328h2.3M1009.9 328h4.3M1021.9 328h2.3M1025.8 328h2.3M1029.8 328h2.3M1033.8 328h2.3M1037.8 328h2.3M1049.8 328h4.3M1077.8 328h2.3M1081.8 328h2.3M1087.8 328h2.3M1093.8 328h2.3M1099.8 328h2.3M1105.8 328h2.3M1111.8 328h2.3M1125.8 328h2.3M1129.8 328h2.3M1137.8 328h2.3M1145.8 328h2.3M1165.8 328h2.3M1179.8 328h2.3M1195.8 328h2.3M1265.8 328h2.3M985.9 330h2.3M989.9 330h2.3M995.9 330h2.3M999.9 330h2.3M1005.9 330h2.3M1009.9 330h4.3M1019.9 330h2.3M1023.9 330h4.3M1029.8 330h2.3M1033.8 330h2.3M1037.8 330h12.3M1057.8 330h4.3M1077.8 330h2.3M1081.8 330h2.3M1087.8 330h2.3M1091.8 330h2.3M1099.8 330h2.3M1105.8 330h2.3M1109.8 330h2.3M1125.8 330h2.3M1137.8 330h2.3M1147.8 330h4.3M1179.8 330h4.3M989.9 332h2.3M995.9 332h2.3M999.9 332h2.3M1005.9 332h2.3M1009.9 332h2.3M1019.9 332h2.3M1023.9 332h4.3M1029.8 332h2.3M1033.8 332h2.3M1055.8 332h2.3M1075.8 332h2.3M1081.8 332h2.3M1087.8 332h2.3M1091.8 332h2.3M1097.8 332h2.3M1103.8 332h2.3M1125.8 332h4.3M1133.8 332h2.3M1137.8 332h2.3M1159.8 332h2.3M1193.8 332h2.3M1233.8 332h2.3M1279.8 332h2.3M989.9 334h2.3M995.9 334h2.3M1001.9 334h2.3M1005.9 334h2.3M1009.9 334h2.3M1013.9 334h2.3M1019.9 334h2.3M1023.9 334h2.3M1027.8 334h2.3M1031.8 334h2.3M1035.8 334h20.3M1061.8 334h2.3M1067.8 334h2.3M1071.8 334h2.3M1075.8 334h2.3M1081.8 334h2.3M1085.8 334h2.3M1091.8 334h2.3M1097.8 334h2.3M1103.8 334h2.3M1125.8 334h2.3M1129.8 334h2.3M1135.8 334h2.3M1161.8 334h2.3M1171.8 334h2.3M1177.8 334h2.3M1201.8 334h2.3M1231.8 334h2.3M1241.8 334h2.3M1295.8 334h2.3M985.9 336h2.3M989.9 336h2.3M995.9 336h2.3M1001.9 336h2.3M1005.9 336h2.3M1009.9 336h2.3M1013.9 336h2.3M1019.9 336h2.3M1023.9 336h2.3M1027.8 336h2.3M1033.8 336h2.3M1059.8 336h2.3M1065.8 336h2.3M1071.8 336h2.3M1075.8 336h2.3M1081.8 336h2.3M1085.8 336h2.3M1091.8 336h2.3M1097.8 336h2.3M1103.8 336h2.3M1109.8 336h2.3M1123.8 336h2.3M1127.8 336h4.3M1169.8 336h2.3M1193.8 336h2.3M983.9 338h2.3M989.9 338h2.3M995.9 338h2.3M1001.9 338h2.3M1005.9 338h2.3M1009.9 338h2.3M1021.9 338h2.3M1025.8 338h2.3M1029.8 338h2.3M1033.8 338h4.3M1057.8 338h2.3M1065.8 338h2.3M1071.8 338h2.3M1075.8 338h2.3M1079.8 338h2.3M1085.8 338h2.3M1091.8 338h2.3M1097.8 338h2.3M1103.8 338h2.3M1107.8 338h2.3M1123.8 338h2.3M1147.8 338h2.3M1151.8 338h2.3M1161.8 338h2.3M1187.8 338h2.3M1209.8 338h4.3M1275.8 338h2.3M989.9 340h2.3M995.9 340h2.3M1001.9 340h2.3M1005.9 340h2.3M1009.9 340h2.3M1013.9 340h2.3M1031.8 340h2.3M1037.8 340h16.3M1063.8 340h2.3M1071.8 340h2.3M1075.8 340h2.3M1079.8 340h2.3M1085.8 340h2.3M1091.8 340h2.3M1095.8 340h2.3M1101.8 340h2.3M1107.8 340h2.3M1123.8 340h2.3M1157.8 340h2.3M1177.8 340h2.3M1217.8 340h2.3M1227.8 340h2.3M1235.8 340h2.3M1243.8 340h2.3M989.9 342h2.3M995.9 342h2.3M1001.9 342h2.3M1005.9 342h2.3M1009.9 342h2.3M1013.9 342h2.3M1031.8 342h2.3M1061.8 342h2.3M1069.8 342h2.3M1075.8 342h2.3M1079.8 342h2.3M1083.8 342h2.3M1089.8 342h2.3M1095.8 342h2.3M1101.8 342h2.3M1107.8 342h2.3M1123.8 342h2.3M1127.8 342h4.3M1143.8 342h2.3M1203.8 342h2.3M1239.8 342h2.3M991.9 344h2.3M995.9 344h2.3M1001.9 344h2.3M1005.9 344h2.3M1011.9 344h2.3M1015.9 344h2.3M1029.8 344h2.3M1033.8 344h4.3M1069.8 344h2.3M1075.8 344h2.3M1079.8 344h2.3M1083.8 344h2.3M1089.8 344h2.3M1095.8 344h2.3M1101.8 344h2.3M1107.8 344h2.3M1121.8 344h2.3M1149.8 344h2.3M1167.8 344h2.3M1189.8 344h2.3M1207.8 344h2.3M1237.8 344h2.3M991.9 346h2.3M995.9 346h2.3M1001.9 346h2.3M1007.9 346h2.3M1011.9 346h2.3M1029.8 346h2.3M1037.8 346h10.3M1065.8 346h4.3M1073.8 346h2.3M1079.8 346h2.3M1083.8 346h2.3M1089.8 346h2.3M1095.8 346h2.3M1101.8 346h2.3M1105.8 346h2.3M1121.8 346h2.3M1125.8 346h4.3M1153.8 346h4.3M1165.8 346h2.3M1169.8 346h2.3M1175.8 346h6.3M1217.8 346h2.3M1251.8 346h2.3M991.9 348h2.3M997.9 348h2.3M1001.9 348h2.3M1007.9 348h2.3M1031.8 348h2.3M1063.8 348h2.3M1071.8 348h2.3M1077.8 348h2.3M1083.8 348h2.3M1089.8 348h2.3M1093.8 348h2.3M1099.8 348h2.3M1105.8 348h2.3M1121.8 348h4.3M1127.8 348h2.3M1151.8 348h2.3M1155.8 348h2.3M1195.8 348h2.3M1227.8 348h2.3M1247.8 348h2.3M1253.8 348h2.3M991.9 350h2.3M997.9 350h2.3M1003.9 350h2.3M1007.9 350h2.3M1023.9 350h2.3M1027.8 350h2.3M1033.8 350h2.3M1059.8 350h4.3M1071.8 350h2.3M1077.8 350h2.3M1083.8 350h2.3M1089.8 350h2.3M1093.8 350h2.3M1099.8 350h2.3M1105.8 350h2.3M1119.8 350h2.3M1123.8 350h2.3M1133.8 350h2.3M1137.8 350h2.3M1141.8 350h2.3M1177.8 350h4.3M1183.8 350h2.3M1213.8 350h2.3M991.9 352h2.3M997.9 352h2.3M1003.9 352h2.3M1009.9 352h2.3M1013.9 352h2.3M1023.9 352h2.3M1029.8 352h2.3M1035.8 352h16.3M1069.8 352h2.3M1075.8 352h2.3M1081.8 352h2.3M1087.8 352h2.3M1093.8 352h2.3M1099.8 352h2.3M1105.8 352h2.3M1119.8 352h2.3M1125.8 352h2.3M1129.8 352h2.3M1145.8 352h2.3M1149.8 352h2.3M1171.8 352h2.3M1175.8 352h2.3M1183.8 352h2.3M1219.8 352h2.3M1225.8 352h2.3M1275.8 352h2.3M989.9 354h4.3M997.9 354h2.3M1003.9 354h2.3M1009.9 354h2.3M1021.9 354h2.3M1025.8 354h2.3M1029.8 354h2.3M1063.8 354h6.3M1073.8 354h2.3M1081.8 354h2.3M1087.8 354h2.3M1093.8 354h2.3M1097.8 354h2.3M1105.8 354h2.3M1119.8 354h2.3M1135.8 354h2.3M1141.8 354h2.3M1147.8 354h2.3M1157.8 354h2.3M1163.8 354h2.3M1179.8 354h4.3M1189.8 354h2.3M1227.8 354h2.3M991.9 356h2.3M997.9 356h2.3M1005.9 356h2.3M1011.9 356h2.3M1015.9 356h2.3M1021.9 356h2.3M1027.8 356h2.3M1031.8 356h2.3M1057.8 356h6.3M1073.8 356h2.3M1081.8 356h2.3M1087.8 356h2.3M1091.8 356h2.3M1097.8 356h2.3M1103.8 356h2.3M1119.8 356h4.3M1127.8 356h2.3M1141.8 356h2.3M1181.8 356h2.3M1189.8 356h2.3M1217.8 356h2.3M1253.8 356h2.3M991.9 358h2.3M999.9 358h2.3M1005.9 358h2.3M1011.9 358h2.3M1023.9 358h2.3M1027.8 358h2.3M1033.8 358h24.3M1069.8 358h4.3M1079.8 358h2.3M1085.8 358h2.3M1091.8 358h2.3M1097.8 358h2.3M1103.8 358h2.3M1117.8 358h2.3M1127.8 358h2.3M1133.8 358h2.3M1155.8 358h2.3M1163.8 358h2.3M1193.8 358h2.3M1245.8 358h2.3M989.9 360h4.3M999.9 360h2.3M1007.9 360h2.3M1013.9 360h2.3M1017.9 360h2.3M1023.9 360h2.3M1029.8 360h2.3M1063.8 360h6.3M1077.8 360h2.3M1085.8 360h2.3M1091.8 360h2.3M1097.8 360h2.3M1103.8 360h2.3M1117.8 360h2.3M1123.8 360h2.3M1127.8 360h2.3M1139.8 360h2.3M1165.8 360h2.3M1179.8 360h2.3M1191.8 360h2.3M1243.8 360h2.3M1275.8 360h2.3M993.9 362h2.3M999.9 362h2.3M1007.9 362h2.3M1013.9 362h2.3M1019.9 362h2.3M1025.8 362h2.3M1031.8 362h4.3M1055.8 362h8.3M1075.8 362h2.3M1083.8 362h2.3M1089.8 362h2.3M1095.8 362h2.3M1103.8 362h2.3M1117.8 362h4.3M1135.8 362h2.3M1139.8 362h4.3M1159.8 362h2.3M1165.8 362h2.3M1177.8 362h2.3M1199.8 362h2.3M1217.8 362h2.3M989.9 364h2.3M993.9 364h2.3M1001.9 364h2.3M1007.9 364h2.3M1015.9 364h2.3M1019.9 364h2.3M1025.8 364h4.3M1035.8 364h20.3M1073.8 364h2.3M1081.8 364h2.3M1089.8 364h2.3M1095.8 364h2.3M1101.8 364h2.3M1117.8 364h2.3M1127.8 364h2.3M1139.8 364h2.3M1155.8 364h2.3M1161.8 364h2.3M1171.8 364h2.3M1181.8 364h4.3M1189.8 364h10.3M1201.8 364h10.3M1217.8 364h4.3M1227.8 364h2.3M1287.8 364h2.3M993.9 366h2.3M1001.9 366h2.3M1009.9 366h2.3M1015.9 366h2.3M1021.9 366h2.3M1029.8 366h4.3M1069.8 366h4.3M1079.8 366h2.3M1087.8 366h2.3M1095.8 366h2.3M1101.8 366h2.3M1115.8 366h2.3M1125.8 366h2.3M1129.8 366h4.3M1179.8 366h2.3M1183.8 366h6.3M1211.8 366h4.3M1227.8 366h2.3M995.9 368h2.3M1003.9 368h2.3M1009.9 368h2.3M1017.9 368h2.3M1023.9 368h2.3M1033.8 368h14.3M1057.8 368h12.3M1077.8 368h2.3M1087.8 368h2.3M1093.8 368h2.3M1101.8 368h2.3M1115.8 368h2.3M1119.8 368h2.3M1129.8 368h4.3M1143.8 368h2.3M1147.8 368h2.3M1155.8 368h4.3M1161.8 368h2.3M1169.8 368h2.3M1177.8 368h2.3M1181.8 368h2.3M1215.8 368h4.3M1229.8 368h2.3M1253.8 368h2.3M1257.8 368h2.3M1295.8 368h2.3M995.9 370h2.3M1003.9 370h2.3M1011.9 370h2.3M1017.9 370h2.3M1025.8 370h2.3M1047.8 370h10.3M1075.8 370h2.3M1085.8 370h2.3M1093.8 370h2.3M1101.8 370h2.3M1115.8 370h4.3M1125.8 370h2.3M1129.8 370h2.3M1139.8 370h2.3M1169.8 370h2.3M1175.8 370h2.3M1179.8 370h2.3M1219.8 370h2.3M1241.8 370h2.3M989.9 372h2.3M995.9 372h2.3M1003.9 372h2.3M1011.9 372h2.3M1019.9 372h2.3M1027.8 372h6.3M1071.8 372h4.3M1083.8 372h2.3M1091.8 372h2.3M1099.8 372h2.3M1115.8 372h2.3M1119.8 372h2.3M1177.8 372h2.3M1221.8 372h2.3M995.9 374h4.3M1005.9 374h2.3M1013.9 374h2.3M1021.9 374h2.3M1033.8 374h8.3M1061.8 374h10.3M1081.8 374h2.3M1091.8 374h2.3M1099.8 374h2.3M1113.8 374h2.3M1127.8 374h2.3M1131.8 374h2.3M1149.8 374h2.3M1165.8 374h2.3M1171.8 374h2.3M1175.8 374h2.3M1221.8 374h2.3M1231.8 374h2.3M1243.8 374h2.3M991.9 376h2.3M995.9 376h4.3M1005.9 376h2.3M1015.9 376h2.3M1023.9 376h2.3M1041.8 376h20.3M1077.8 376h4.3M1089.8 376h2.3M1099.8 376h2.3M1113.8 376h2.3M1119.8 376h2.3M1129.8 376h2.3M1141.8 376h2.3M1145.8 376h2.3M1173.8 376h4.3M1223.8 376h2.3M1237.8 376h2.3M1241.8 376h4.3M985.9 378h2.3M995.9 378h4.3M1007.9 378h2.3M1015.9 378h2.3M1025.8 378h4.3M1075.8 378h2.3M1087.8 378h2.3M1097.8 378h2.3M1113.8 378h2.3M1117.8 378h2.3M1135.8 378h2.3M1147.8 378h2.3M1173.8 378h2.3M1223.8 378h2.3M1233.8 378h2.3M1237.8 378h2.3M1251.8 378h2.3M1309.8 378h2.3M999.9 380h2.3M1007.9 380h2.3M1017.9 380h2.3M1029.8 380h4.3M1067.8 380h8.3M1085.8 380h2.3M1097.8 380h2.3M1113.8 380h2.3M1129.8 380h2.3M1133.8 380h2.3M1137.8 380h2.3M1143.8 380h2.3M1151.8 380h2.3M1173.8 380h2.3M1223.8 380h2.3M1229.8 380h2.3M1235.8 380h2.3M1249.8 380h4.3M997.9 382h4.3M1007.9 382h2.3M1017.9 382h2.3M1033.8 382h34.3M1083.8 382h2.3M1097.8 382h2.3M1111.8 382h4.3M1121.8 382h4.3M1127.8 382h2.3M1133.8 382h2.3M1137.8 382h2.3M1153.8 382h2.3M1165.8 382h2.3M1171.8 382h2.3M1225.8 382h2.3M1229.8 382h2.3M1237.8 382h2.3M993.9 384h2.3M999.9 384h2.3M1009.9 384h2.3M1019.9 384h2.3M1081.8 384h2.3M1095.8 384h2.3M1111.8 384h6.3M1141.8 384h2.3M1153.8 384h2.3M1161.8 384h2.3M1171.8 384h2.3M1225.8 384h2.3M1229.8 384h2.3M1001.9 386h2.3M1009.9 386h2.3M1021.9 386h2.3M1079.8 386h2.3M1095.8 386h2.3M1111.8 386h4.3M1125.8 386h2.3M1167.8 386h4.3M1225.8 386h2.3M1233.8 386h2.3M1241.8 386h2.3M1271.8 386h2.3M1001.9 388h2.3M1011.9 388h2.3M1023.9 388h2.3M1073.8 388h6.3M1093.8 388h2.3M1109.8 388h2.3M1113.8 388h4.3M1127.8 388h2.3M1131.8 388h4.3M1137.8 388h2.3M1143.8 388h2.3M1165.8 388h2.3M1169.8 388h2.3M1225.8 388h2.3M1001.9 390h2.3M1011.9 390h2.3M1025.8 390h2.3M1069.8 390h4.3M1093.8 390h2.3M1109.8 390h2.3M1131.8 390h2.3M1139.8 390h2.3M1169.8 390h2.3M1225.8 390h2.3M1235.8 390h2.3M1247.8 390h2.3M1253.8 390h2.3M1265.8 390h2.3M1297.8 390h2.3M1001.9 392h2.3M1013.9 392h2.3M1027.8 392h2.3M1065.8 392h4.3M1091.8 392h2.3M1107.8 392h2.3M1111.8 392h2.3M1139.8 392h2.3M1151.8 392h2.3M1157.8 392h4.3M1167.8 392h2.3M1225.8 392h2.3M1229.8 392h2.3M1251.8 392h2.3M1259.8 392h2.3M1001.9 394h4.3M1013.9 394h2.3M1029.8 394h4.3M1061.8 394h4.3M1089.8 394h2.3M1107.8 394h2.3M1137.8 394h2.3M1149.8 394h2.3M1167.8 394h2.3M1225.8 394h2.3M1253.8 394h2.3M1003.9 396h2.3M1015.9 396h2.3M1033.8 396h6.3M1055.8 396h6.3M1089.8 396h2.3M1107.8 396h2.3M1111.8 396h2.3M1139.8 396h4.3M1167.8 396h2.3M1225.8 396h2.3M1231.8 396h2.3M1237.8 396h2.3M1003.9 398h2.3M1015.9 398h2.3M1039.8 398h16.3M1087.8 398h2.3M1105.8 398h2.3M1119.8 398h4.3M1127.8 398h2.3M1141.8 398h2.3M1153.8 398h2.3M1163.8 398h2.3M1167.8 398h2.3M1225.8 398h2.3M1229.8 398h2.3M997.9 400h4.3M1003.9 400h2.3M1017.9 400h2.3M1085.8 400h2.3M1105.8 400h2.3M1111.8 400h2.3M1117.8 400h2.3M1131.8 400h2.3M1161.8 400h2.3M1167.8 400h2.3M1225.8 400h2.3M1233.8 400h2.3M1241.8 400h2.3M1251.8 400h2.3M1003.9 402h2.3M1017.9 402h2.3M1085.8 402h2.3M1103.8 402h2.3M1115.8 402h2.3M1127.8 402h2.3M1131.8 402h4.3M1151.8 402h2.3M1155.8 402h2.3M1163.8 402h2.3M1167.8 402h2.3M1225.8 402h2.3M1231.8 402h2.3M1245.8 402h2.3M1005.9 404h2.3M1017.9 404h2.3M1083.8 404h2.3M1103.8 404h2.3M1133.8 404h2.3M1149.8 404h2.3M1157.8 404h2.3M1163.8 404h2.3M1167.8 404h2.3M1225.8 404h2.3M1229.8 404h2.3M1233.8 404h4.3M1249.8 404h2.3M1275.8 404h2.3M1005.9 406h2.3M1019.9 406h2.3M1081.8 406h2.3M1101.8 406h2.3M1105.8 406h2.3M1141.8 406h4.3M1153.8 406h2.3M1161.8 406h2.3M1167.8 406h2.3M1225.8 406h2.3M1241.8 406h2.3M1247.8 406h2.3M1259.8 406h2.3M1265.8 406h2.3M1005.9 408h2.3M1019.9 408h2.3M1081.8 408h2.3M1101.8 408h2.3M1123.8 408h2.3M1133.8 408h2.3M1145.8 408h2.3M1153.8 408h2.3M1167.8 408h2.3M1225.8 408h2.3M1231.8 408h2.3M1253.8 408h2.3M1005.9 410h2.3M1019.9 410h2.3M1079.8 410h2.3M1101.8 410h4.3M1119.8 410h2.3M1129.8 410h2.3M1151.8 410h2.3M1155.8 410h4.3M1167.8 410h2.3M1225.8 410h2.3M1255.8 410h2.3M1003.9 412h2.3M1017.9 412h2.3M1079.8 412h2.3M1099.8 412h2.3M1103.8 412h2.3M1115.8 412h2.3M1149.8 412h2.3M1167.8 412h2.3M1225.8 412h2.3M1251.8 412h2.3M1003.9 414h2.3M1017.9 414h2.3M1079.8 414h2.3M1099.8 414h2.3M1109.8 414h2.3M1169.8 414h2.3M1223.8 414h2.3M1237.8 414h2.3M1247.8 414h2.3M1287.8 414h2.3M1003.9 416h2.3M1017.9 416h2.3M1079.8 416h2.3M1099.8 416h2.3M1111.8 416h2.3M1133.8 416h4.3M1159.8 416h2.3M1169.8 416h2.3M1223.8 416h2.3M1003.9 418h2.3M1015.9 418h2.3M1079.8 418h2.3M1099.8 418h4.3M1143.8 418h4.3M1157.8 418h2.3M1165.8 418h6.3M1223.8 418h2.3M1255.8 418h2.3M1001.9 420h2.3M1015.9 420h2.3M1079.8 420h2.3M1099.8 420h2.3M1107.8 420h2.3M1149.8 420h2.3M1165.8 420h2.3M1171.8 420h2.3M1221.8 420h2.3M1263.8 420h4.3M1001.9 422h2.3M1013.9 422h2.3M1037.8 422h4.3M1081.8 422h2.3M1099.8 422h2.3M1111.8 422h2.3M1133.8 422h4.3M1149.8 422h2.3M1173.8 422h2.3M1221.8 422h2.3M1237.8 422h6.3M1249.8 422h2.3M1001.9 424h2.3M1011.9 424h2.3M1031.8 424h6.3M1041.8 424h16.3M1081.8 424h2.3M1099.8 424h2.3M1123.8 424h2.3M1127.8 424h2.3M1153.8 424h2.3M1167.8 424h2.3M1173.8 424h2.3M1219.8 424h2.3M999.9 426h2.3M1011.9 426h2.3M1027.8 426h4.3M1057.8 426h4.3M1083.8 426h2.3M1101.8 426h2.3M1107.8 426h2.3M1121.8 426h2.3M1125.8 426h2.3M1147.8 426h2.3M1161.8 426h2.3M1175.8 426h2.3M1219.8 426h2.3M1229.8 426h2.3M1271.8 426h2.3M1283.8 426h2.3M999.9 428h2.3M1009.9 428h2.3M1023.9 428h4.3M1061.8 428h4.3M1085.8 428h2.3M1101.8 428h2.3M1111.8 428h2.3M1125.8 428h2.3M1129.8 428h2.3M1137.8 428h4.3M1147.8 428h4.3M1163.8 428h2.3M1177.8 428h2.3M1217.8 428h2.3M1237.8 428h2.3M1243.8 428h2.3M999.9 430h2.3M1009.9 430h2.3M1021.9 430h2.3M1065.8 430h2.3M1085.8 430h2.3M1101.8 430h2.3M1105.8 430h4.3M1149.8 430h4.3M1179.8 430h2.3M1215.8 430h2.3M1235.8 430h2.3M1273.8 430h2.3M991.9 432h2.3M997.9 432h2.3M1007.9 432h2.3M1019.9 432h2.3M1067.8 432h4.3M1087.8 432h2.3M1101.8 432h2.3M1105.8 432h2.3M1109.8 432h2.3M1117.8 432h2.3M1127.8 432h2.3M1165.8 432h2.3M1169.8 432h2.3M1181.8 432h4.3M1213.8 432h2.3M1221.8 432h2.3M1239.8 432h2.3M993.9 434h2.3M997.9 434h2.3M1005.9 434h2.3M1017.9 434h2.3M1029.8 434h20.3M1071.8 434h4.3M1089.8 434h2.3M1103.8 434h2.3M1123.8 434h4.3M1135.8 434h2.3M1153.8 434h2.3M1157.8 434h2.3M1167.8 434h2.3M1185.8 434h2.3M1209.8 434h4.3M1249.8 434h2.3M997.9 436h2.3M1005.9 436h2.3M1015.9 436h2.3M1025.8 436h4.3M1049.8 436h12.3M1075.8 436h2.3M1089.8 436h2.3M1103.8 436h8.3M1115.8 436h2.3M1119.8 436h2.3M1129.8 436h2.3M1147.8 436h2.3M1155.8 436h2.3M1169.8 436h2.3M1177.8 436h2.3M1187.8 436h8.3M1203.8 436h6.3M1215.8 436h2.3M1231.8 436h2.3M1237.8 436h2.3M993.9 438h4.3M1003.9 438h2.3M1013.9 438h2.3M1021.9 438h4.3M1061.8 438h6.3M1077.8 438h2.3M1091.8 438h2.3M1103.8 438h2.3M1149.8 438h2.3M1165.8 438h2.3M1175.8 438h4.3M1195.8 438h8.3M1217.8 438h2.3M1223.8 438h2.3M1251.8 438h2.3M1261.8 438h2.3M983.9 440h2.3M989.9 440h2.3M995.9 440h2.3M1003.9 440h2.3M1011.9 440h2.3M1019.9 440h2.3M1029.8 440h18.3M1067.8 440h4.3M1079.8 440h2.3M1091.8 440h2.3M1105.8 440h2.3M1119.8 440h2.3M1123.8 440h2.3M1149.8 440h2.3M1179.8 440h2.3M1183.8 440h2.3M1205.8 440h4.3M1227.8 440h2.3M1233.8 440h2.3M1301.8 440h2.3M995.9 442h2.3M1003.9 442h2.3M1011.9 442h2.3M1017.9 442h2.3M1027.8 442h2.3M1047.8 442h4.3M1071.8 442h2.3M1081.8 442h2.3M1093.8 442h2.3M1105.8 442h2.3M1109.8 442h4.3M1115.8 442h2.3M1121.8 442h2.3M1127.8 442h2.3M1131.8 442h2.3M1137.8 442h4.3M1151.8 442h4.3M1171.8 442h2.3M1187.8 442h2.3M1215.8 442h4.3M1263.8 442h2.3M1275.8 442h2.3M1281.8 442h2.3M993.9 444h2.3M1001.9 444h2.3M1009.9 444h2.3M1015.9 444h2.3M1025.8 444h2.3M1035.8 444h2.3M1051.8 444h10.3M1073.8 444h2.3M1083.8 444h2.3M1093.8 444h2.3M1107.8 444h2.3M1111.8 444h6.3M1119.8 444h2.3M1127.8 444h2.3M1137.8 444h2.3M1145.8 444h2.3M1159.8 444h2.3M1189.8 444h2.3M1193.8 444h4.3M1211.8 444h2.3M1215.8 444h2.3M993.9 446h2.3M1001.9 446h2.3M1009.9 446h2.3M1013.9 446h2.3M1023.9 446h2.3M1031.8 446h4.3M1037.8 446h4.3M1061.8 446h4.3M1075.8 446h2.3M1085.8 446h2.3M1095.8 446h2.3M1107.8 446h2.3M1125.8 446h4.3M1145.8 446h2.3M1155.8 446h2.3M1183.8 446h2.3M1205.8 446h2.3M1211.8 446h2.3M1227.8 446h2.3M1233.8 446h2.3M993.9 448h2.3M999.9 448h2.3M1007.9 448h2.3M1011.9 448h2.3M1019.9 448h4.3M1029.8 448h2.3M1041.8 448h2.3M1065.8 448h4.3M1077.8 448h2.3M1085.8 448h2.3M1095.8 448h2.3M1107.8 448h2.3M1113.8 448h2.3M1171.8 448h2.3M1179.8 448h4.3M1211.8 448h2.3M1217.8 448h2.3M1223.8 448h2.3M1227.8 448h2.3M1233.8 448h4.3M993.9 450h2.3M999.9 450h2.3M1007.9 450h2.3M1011.9 450h2.3M1017.9 450h2.3M1027.8 450h2.3M1043.8 450h8.3M1069.8 450h2.3M1079.8 450h2.3M1087.8 450h2.3M1097.8 450h2.3M1109.8 450h2.3M1217.8 450h2.3M1229.8 450h2.3M1235.8 450h2.3M1245.8 450h2.3M1255.8 450h2.3M991.9 452h2.3M999.9 452h2.3M1005.9 452h2.3M1009.9 452h2.3M1015.9 452h2.3M1025.8 452h2.3M1051.8 452h6.3M1069.8 452h2.3M1079.8 452h2.3M1087.8 452h2.3M1097.8 452h2.3M1109.8 452h2.3M1113.8 452h2.3M1117.8 452h4.3M1125.8 452h2.3M1129.8 452h2.3M1151.8 452h2.3M1155.8 452h4.3M1185.8 452h2.3M1193.8 452h2.3M1211.8 452h2.3M975.9 454h2.3M989.9 454h4.3M997.9 454h2.3M1005.9 454h2.3M1009.9 454h2.3M1013.9 454h2.3M1019.9 454h6.3M1031.8 454h8.3M1057.8 454h2.3M1071.8 454h2.3M1081.8 454h2.3M1089.8 454h2.3M1099.8 454h2.3M1109.8 454h2.3M1117.8 454h2.3M1121.8 454h2.3M1131.8 454h6.3M1139.8 454h2.3M1147.8 454h2.3M1153.8 454h2.3M1159.8 454h2.3M1191.8 454h2.3M1195.8 454h2.3M1209.8 454h2.3M1213.8 454h4.3M1229.8 454h2.3M1237.8 454h2.3M983.9 456h2.3M989.9 456h4.3M997.9 456h2.3M1003.9 456h2.3M1007.9 456h2.3M1011.9 456h2.3M1017.9 456h2.3M1027.8 456h4.3M1039.8 456h4.3M1059.8 456h4.3M1073.8 456h2.3M1083.8 456h2.3M1089.8 456h2.3M1099.8 456h2.3M1111.8 456h2.3M1119.8 456h2.3M1125.8 456h2.3M1131.8 456h2.3M1143.8 456h2.3M1149.8 456h2.3M1159.8 456h2.3M1169.8 456h2.3M1177.8 456h2.3M1205.8 456h2.3M1211.8 456h4.3M1219.8 456h2.3M985.9 458h2.3M991.9 458h2.3M997.9 458h2.3M1003.9 458h2.3M1007.9 458h2.3M1011.9 458h2.3M1015.9 458h2.3M1023.9 458h4.3M1043.8 458h10.3M1063.8 458h4.3M1075.8 458h4.3M1085.8 458h2.3M1091.8 458h2.3M1101.8 458h2.3M1111.8 458h2.3M1123.8 458h2.3M1129.8 458h2.3M1135.8 458h2.3M1149.8 458h2.3M1193.8 458h2.3M1245.8 458h2.3M985.9 460h2.3M991.9 460h2.3M997.9 460h2.3M1003.9 460h2.3M1007.9 460h2.3M1011.9 460h2.3M1015.9 460h2.3M1019.9 460h4.3M1027.8 460h6.3M1053.8 460h2.3M1067.8 460h4.3M1079.8 460h2.3M1085.8 460h2.3M1091.8 460h2.3M1101.8 460h2.3M1113.8 460h2.3M1119.8 460h2.3M1143.8 460h4.3M1149.8 460h2.3M1181.8 460h2.3M1185.8 460h2.3M1193.8 460h2.3M1213.8 460h2.3M1225.8 460h2.3M1233.8 460h2.3M989.9 462h2.3M995.9 462h2.3M1001.9 462h2.3M1005.9 462h2.3M1009.9 462h2.3M1013.9 462h2.3M1017.9 462h2.3M1023.9 462h4.3M1033.8 462h6.3M1055.8 462h4.3M1071.8 462h4.3M1081.8 462h2.3M1087.8 462h2.3M1093.8 462h2.3M1101.8 462h2.3M1113.8 462h2.3M1119.8 462h2.3M1129.8 462h2.3M1133.8 462h2.3M1147.8 462h2.3M1177.8 462h2.3M1199.8 462h2.3M1205.8 462h2.3M985.9 464h6.3M995.9 464h2.3M1005.9 464h2.3M1009.9 464h2.3M1013.9 464h2.3M1017.9 464h2.3M1039.8 464h2.3M1043.8 464h8.3M1059.8 464h2.3M1075.8 464h2.3M1083.8 464h2.3M1089.8 464h2.3M1093.8 464h2.3M1103.8 464h2.3M1113.8 464h2.3M1117.8 464h4.3M1123.8 464h2.3M1131.8 464h2.3M1165.8 464h2.3M1175.8 464h2.3M1219.8 464h2.3M1229.8 464h2.3M989.9 466h2.3M995.9 466h2.3M1011.9 466h2.3M1015.9 466h2.3M1027.8 466h10.3M1067.8 466h6.3M1077.8 466h2.3M1085.8 466h2.3M1089.8 466h2.3M1095.8 466h2.3M1103.8 466h2.3M1115.8 466h4.3M1129.8 466h2.3M1139.8 466h2.3M1145.8 466h2.3M1163.8 466h2.3M1167.8 466h2.3M1173.8 466h2.3M1181.8 466h2.3M1191.8 466h2.3M1199.8 466h2.3M1215.8 466h2.3M1225.8 466h2.3M1237.8 466h2.3M1259.8 466h2.3M989.9 468h2.3M995.9 468h2.3M999.9 468h2.3M1015.9 468h2.3M1025.8 468h2.3M1037.8 468h4.3M1073.8 468h2.3M1079.8 468h2.3M1085.8 468h2.3M1091.8 468h2.3M1095.8 468h2.3M1105.8 468h2.3M1115.8 468h2.3M1125.8 468h2.3M1137.8 468h2.3M1141.8 468h2.3M1145.8 468h2.3M1173.8 468h2.3M1261.8 468h2.3M989.9 470h2.3M995.9 470h2.3M999.9 470h2.3M1017.9 470h2.3M1033.8 470h2.3M1041.8 470h2.3M1067.8 470h2.3M1075.8 470h2.3M1081.8 470h2.3M1087.8 470h2.3M1091.8 470h2.3M1097.8 470h2.3M1105.8 470h2.3M1117.8 470h8.3M1159.8 470h2.3M1177.8 470h2.3M1195.8 470h2.3M989.9 472h2.3M993.9 472h2.3M1015.9 472h2.3M1029.8 472h4.3M1035.8 472h4.3M1069.8 472h4.3M1075.8 472h2.3M1081.8 472h2.3M1087.8 472h2.3M1093.8 472h2.3M1097.8 472h2.3M1105.8 472h2.3M1117.8 472h2.3M1121.8 472h4.3M1135.8 472h2.3M1145.8 472h8.3M1167.8 472h2.3M1185.8 472h4.3M1201.8 472h2.3M1227.8 472h2.3M1251.8 472h2.3M989.9 474h2.3M1011.9 474h4.3M1017.9 474h2.3M1039.8 474h6.3M1059.8 474h2.3M1071.8 474h2.3M1089.8 474h2.3M1093.8 474h2.3M1097.8 474h2.3M1107.8 474h2.3M1119.8 474h2.3M1123.8 474h2.3M1131.8 474h2.3M1135.8 474h4.3M1141.8 474h2.3M1145.8 474h2.3M1151.8 474h4.3M1169.8 474h2.3M1183.8 474h2.3M1237.8 474h2.3M1255.8 474h2.3M1263.8 474h2.3M985.9 476h4.3M1009.9 476h6.3M1017.9 476h2.3M1021.9 476h2.3M1031.8 476h6.3M1053.8 476h6.3M1073.8 476h2.3M1083.8 476h2.3M1089.8 476h2.3M1093.8 476h2.3M1099.8 476h2.3M1107.8 476h2.3M1119.8 476h2.3M1143.8 476h2.3M1147.8 476h4.3M1155.8 476h2.3M1163.8 476h2.3M1169.8 476h4.3M1207.8 476h2.3M987.9 478h2.3M1001.9 478h6.3M1009.9 478h8.3M1019.9 478h2.3M1027.8 478h4.3M1037.8 478h4.3M1059.8 478h2.3M1065.8 478h2.3M1089.8 478h2.3M1095.8 478h2.3M1099.8 478h2.3M1109.8 478h2.3M1119.8 478h2.3M1129.8 478h2.3M1135.8 478h2.3M1139.8 478h4.3M1147.8 478h2.3M1157.8 478h2.3M1163.8 478h2.3M1173.8 478h2.3M1177.8 478h4.3M1187.8 478h2.3M987.9 480h2.3M993.9 480h2.3M997.9 480h10.3M1009.9 480h8.3M1019.9 480h2.3M1023.9 480h4.3M1041.8 480h10.3M1061.8 480h4.3M1089.8 480h2.3M1095.8 480h2.3M1099.8 480h2.3M1109.8 480h2.3M1121.8 480h2.3M1129.8 480h2.3M1149.8 480h4.3M1159.8 480h4.3M1173.8 480h2.3M1189.8 480h2.3M1195.8 480h2.3M987.9 482h2.3M993.9 482h2.3M997.9 482h18.3M1017.9 482h2.3M1023.9 482h2.3M1051.8 482h8.3M1065.8 482h2.3M1091.8 482h2.3M1095.8 482h2.3M1101.8 482h2.3M1111.8 482h2.3M1121.8 482h2.3M1129.8 482h2.3M1133.8 482h2.3M1137.8 482h2.3M1147.8 482h2.3M1163.8 482h4.3M1189.8 482h2.3M1251.8 482h2.3M987.9 484h2.3M993.9 484h22.3M1017.9 484h2.3M1021.9 484h2.3M1059.8 484h4.3M1067.8 484h2.3M1091.8 484h2.3M1097.8 484h2.3M1101.8 484h2.3M1111.8 484h2.3M1123.8 484h4.3M1143.8 484h2.3M1149.8 484h2.3M1163.8 484h2.3M1169.8 484h2.3M1183.8 484h2.3M1211.8 484h2.3M1239.8 484h2.3M979.9 486h2.3M985.9 486h4.3M991.9 486h2.3M995.9 486h18.3M1015.9 486h2.3M1021.9 486h2.3M1041.8 486h12.3M1063.8 486h2.3M1087.8 486h2.3M1091.8 486h2.3M1097.8 486h2.3M1103.8 486h2.3M1111.8 486h2.3M1123.8 486h2.3M1155.8 486h2.3M1161.8 486h2.3M1185.8 486h2.3M1189.8 486h2.3M1211.8 486h2.3M1215.8 486h2.3M975.9 488h2.3M981.9 488h2.3M985.9 488h4.3M991.9 488h2.3M995.9 488h14.3M1011.9 488h2.3M1015.9 488h2.3M1019.9 488h2.3M1037.8 488h4.3M1053.8 488h8.3M1065.8 488h4.3M1085.8 488h4.3M1093.8 488h2.3M1097.8 488h2.3M1103.8 488h2.3M1113.8 488h2.3M1125.8 488h6.3M1135.8 488h2.3M1143.8 488h2.3M1181.8 488h2.3M1191.8 488h2.3M1197.8 488h2.3M983.9 490h2.3M987.9 490h2.3M991.9 490h2.3M995.9 490h14.3M1011.9 490h4.3M1019.9 490h2.3M1027.8 490h10.3M1045.8 490h8.3M1061.8 490h4.3M1083.8 490h4.3M1089.8 490h2.3M1093.8 490h2.3M1099.8 490h2.3M1103.8 490h2.3M1113.8 490h2.3M1125.8 490h2.3M1139.8 490h2.3M1169.8 490h2.3M1177.8 490h2.3M1209.8 490h2.3M1239.8 490h2.3M981.9 492h2.3M987.9 492h2.3M991.9 492h2.3M995.9 492h16.3M1013.9 492h2.3M1017.9 492h2.3M1025.8 492h2.3M1035.8 492h10.3M1053.8 492h6.3M1065.8 492h2.3M1083.8 492h4.3M1089.8 492h2.3M1095.8 492h2.3M1099.8 492h2.3M1105.8 492h2.3M1115.8 492h2.3M1127.8 492h2.3M1135.8 492h2.3M1145.8 492h2.3M1151.8 492h2.3M1155.8 492h2.3M1183.8 492h4.3M1205.8 492h2.3M1225.8 492h2.3M987.9 494h2.3M991.9 494h2.3M995.9 494h16.3M1013.9 494h2.3M1017.9 494h2.3M1021.9 494h4.3M1029.8 494h8.3M1045.8 494h8.3M1059.8 494h4.3M1067.8 494h2.3M1071.8 494h2.3M1077.8 494h4.3M1083.8 494h4.3M1091.8 494h2.3M1095.8 494h2.3M1099.8 494h2.3M1105.8 494h2.3M1115.8 494h2.3M1127.8 494h2.3M1143.8 494h2.3M1149.8 494h2.3M1155.8 494h2.3M1159.8 494h2.3M1175.8 494h2.3M1235.8 494h2.3M987.9 496h2.3M991.9 496h2.3M995.9 496h18.3M1015.9 496h2.3M1021.9 496h2.3M1035.8 496h10.3M1053.8 496h4.3M1063.8 496h2.3M1069.8 496h2.3M1073.8 496h2.3M1077.8 496h2.3M1081.8 496h8.3M1091.8 496h2.3M1097.8 496h2.3M1101.8 496h2.3M1107.8 496h2.3M1117.8 496h2.3M1129.8 496h2.3M1135.8 496h2.3M1149.8 496h2.3M1179.8 496h2.3M1185.8 496h2.3M1199.8 496h2.3M1211.8 496h2.3M987.9 498h2.3M991.9 498h2.3M995.9 498h18.3M1015.9 498h2.3M1019.9 498h2.3M1023.9 498h2.3M1045.8 498h4.3M1057.8 498h4.3M1065.8 498h2.3M1069.8 498h2.3M1075.8 498h4.3M1081.8 498h8.3M1093.8 498h2.3M1097.8 498h2.3M1101.8 498h2.3M1107.8 498h2.3M1117.8 498h2.3M1129.8 498h2.3M1145.8 498h2.3M1159.8 498h2.3M1181.8 498h2.3M1189.8 498h2.3M1243.8 498h2.3M1269.8 498h2.3M987.9 500h2.3M991.9 500h2.3M995.9 500h18.3M1015.9 500h2.3M1019.9 500h6.3M1039.8 500h6.3M1049.8 500h8.3M1061.8 500h2.3M1067.8 500h2.3M1071.8 500h2.3M1075.8 500h2.3M1079.8 500h8.3M1089.8 500h2.3M1093.8 500h2.3M1097.8 500h2.3M1103.8 500h2.3M1109.8 500h2.3M1119.8 500h2.3M1129.8 500h2.3M1133.8 500h6.3M1171.8 500h2.3M975.9 502h2.3M987.9 502h2.3M991.9 502h2.3M995.9 502h20.3M1017.9 502h6.3M1039.8 502h12.3M1057.8 502h4.3M1063.8 502h2.3M1067.8 502h2.3M1073.8 502h2.3M1077.8 502h8.3M1087.8 502h4.3M1095.8 502h2.3M1099.8 502h2.3M1103.8 502h2.3M1109.8 502h2.3M1119.8 502h2.3M1131.8 502h2.3M1135.8 502h4.3M1141.8 502h2.3M1147.8 502h2.3M1161.8 502h2.3M1167.8 502h2.3M1179.8 502h4.3M1195.8 502h2.3M1199.8 502h2.3M1207.8 502h2.3M981.9 504h6.3M991.9 504h24.3M1017.9 504h6.3M1051.8 504h6.3M1061.8 504h2.3M1065.8 504h6.3M1073.8 504h2.3M1077.8 504h8.3M1087.8 504h2.3M1091.8 504h2.3M1095.8 504h2.3M1099.8 504h2.3M1103.8 504h2.3M1111.8 504h2.3M1121.8 504h2.3M1131.8 504h2.3M1139.8 504h4.3M1147.8 504h2.3M1155.8 504h2.3M1177.8 504h2.3M1185.8 504h2.3M1207.8 504h2.3M981.9 506h2.3M985.9 506h2.3M991.9 506h32.3M1033.8 506h16.3M1057.8 506h2.3M1063.8 506h2.3M1067.8 506h2.3M1071.8 506h2.3M1075.8 506h14.3M1091.8 506h2.3M1095.8 506h2.3M1105.8 506h2.3M1111.8 506h2.3M1121.8 506h2.3M1133.8 506h2.3M1143.8 506h2.3M1171.8 506h2.3M985.9 508h2.3M991.9 508h34.3M1027.8 508h2.3M1031.8 508h2.3M1049.8 508h6.3M1059.8 508h2.3M1063.8 508h2.3M1067.8 508h2.3M1071.8 508h2.3M1075.8 508h2.3M1079.8 508h8.3M1089.8 508h4.3M1101.8 508h2.3M1105.8 508h2.3M1111.8 508h2.3M1121.8 508h2.3M1133.8 508h2.3M1139.8 508h2.3M1153.8 508h2.3M1175.8 508h4.3M1183.8 508h2.3M1201.8 508h2.3M1211.8 508h2.3M1241.8 508h2.3M985.9 510h2.3M991.9 510h36.3M1029.8 510h2.3M1035.8 510h14.3M1055.8 510h2.3M1061.8 510h2.3M1065.8 510h2.3M1069.8 510h2.3M1073.8 510h2.3M1077.8 510h14.3M1093.8 510h2.3M1107.8 510h2.3M1113.8 510h2.3M1123.8 510h2.3M1133.8 510h2.3M1137.8 510h2.3M1263.8 510h2.3M985.9 512h2.3M989.9 512h2.3M993.9 512h30.3M1025.8 512h2.3M1029.8 512h2.3M1033.8 512h2.3M1049.8 512h2.3M1057.8 512h2.3M1061.8 512h2.3M1065.8 512h2.3M1069.8 512h2.3M1073.8 512h2.3M1077.8 512h2.3M1081.8 512h10.3M1107.8 512h2.3M1113.8 512h2.3M1123.8 512h2.3M1135.8 512h2.3M1141.8 512h2.3M1147.8 512h2.3M985.9 514h2.3M989.9 514h2.3M993.9 514h32.3M1027.8 514h2.3M1031.8 514h2.3M1035.8 514h12.3M1051.8 514h4.3M1057.8 514h2.3M1061.8 514h2.3M1065.8 514h2.3M1069.8 514h2.3M1075.8 514h2.3M1079.8 514h10.3M1091.8 514h2.3M1095.8 514h2.3M1109.8 514h2.3M1115.8 514h2.3M1123.8 514h2.3M1135.8 514h2.3M1139.8 514h2.3M1153.8 514h4.3M985.9 516h2.3M989.9 516h2.3M993.9 516h30.3M1027.8 516h2.3M1031.8 516h2.3M1035.8 516h2.3M1047.8 516h2.3M1053.8 516h2.3M1057.8 516h2.3M1063.8 516h4.3M1071.8 516h2.3M1075.8 516h2.3M1079.8 516h10.3M1091.8 516h2.3M1095.8 516h2.3M1109.8 516h2.3M1115.8 516h2.3M1125.8 516h2.3M1135.8 516h6.3M1143.8 516h4.3M1153.8 516h2.3M1163.8 516h4.3M985.9 518h2.3M989.9 518h34.3M1027.8 518h2.3M1031.8 518h2.3M1035.8 518h2.3M1047.8 518h2.3M1063.8 518h2.3M1067.8 518h2.3M1071.8 518h2.3M1077.8 518h14.3M1093.8 518h2.3M1111.8 518h2.3M1115.8 518h2.3M1125.8 518h2.3M1135.8 518h2.3M1139.8 518h6.3M1149.8 518h2.3M1161.8 518h2.3M1199.8 518h4.3M985.9 520h2.3M989.9 520h34.3M1025.8 520h2.3M1031.8 520h2.3M1037.8 520h12.3M1067.8 520h2.3M1073.8 520h2.3M1077.8 520h14.3M1093.8 520h2.3M1097.8 520h2.3M1111.8 520h2.3M1117.8 520h2.3M1125.8 520h2.3M1135.8 520h2.3M1143.8 520h2.3M1155.8 520h2.3M1167.8 520h2.3M1207.8 520h2.3M985.9 522h2.3M989.9 522h34.3M1025.8 522h2.3M1031.8 522h2.3M1065.8 522h2.3M1069.8 522h2.3M1075.8 522h2.3M1079.8 522h10.3M1091.8 522h2.3M1095.8 522h4.3M1101.8 522h2.3M1105.8 522h2.3M1111.8 522h2.3M1117.8 522h2.3M1125.8 522h2.3M1135.8 522h2.3M1141.8 522h2.3M1151.8 522h2.3M1175.8 522h2.3M1179.8 522h2.3M977.9 524h4.3M985.9 524h2.3M989.9 524h34.3M1025.8 524h2.3M1029.8 524h2.3M1065.8 524h2.3M1069.8 524h2.3M1075.8 524h2.3M1079.8 524h10.3M1091.8 524h2.3M1095.8 524h4.3M1101.8 524h2.3M1105.8 524h2.3M1111.8 524h2.3M1117.8 524h2.3M1125.8 524h2.3M1137.8 524h2.3M1143.8 524h2.3M1173.8 524h2.3M1205.8 524h2.3M979.9 526h2.3M985.9 526h2.3M989.9 526h32.3M1025.8 526h2.3M1029.8 526h2.3M1047.8 526h4.3M1065.8 526h2.3M1071.8 526h2.3M1077.8 526h16.3M1095.8 526h4.3M1101.8 526h2.3M1105.8 526h2.3M1111.8 526h2.3M1117.8 526h2.3M1125.8 526h2.3M1137.8 526h2.3M1141.8 526h4.3M1173.8 526h2.3M979.9 528h2.3M985.9 528h2.3M989.9 528h32.3M1025.8 528h2.3M1029.8 528h2.3M1045.8 528h2.3M1049.8 528h2.3M1059.8 528h2.3M1063.8 528h2.3M1067.8 528h2.3M1071.8 528h2.3M1077.8 528h2.3M1081.8 528h10.3M1093.8 528h10.3M1105.8 528h2.3M1111.8 528h2.3M1117.8 528h2.3M1127.8 528h2.3M1137.8 528h2.3M1141.8 528h2.3M1167.8 528h2.3M1191.8 528h2.3M1223.8 528h2.3M985.9 530h2.3M989.9 530h32.3M1025.8 530h2.3M1029.8 530h2.3M1041.8 530h4.3M1051.8 530h2.3M1059.8 530h2.3M1063.8 530h2.3M1069.8 530h2.3M1073.8 530h2.3M1077.8 530h2.3M1081.8 530h22.3M1107.8 530h2.3M1111.8 530h2.3M1117.8 530h2.3M1127.8 530h2.3M1137.8 530h2.3M1149.8 530h2.3M1153.8 530h2.3M1157.8 530h2.3M1161.8 530h2.3M985.9 532h2.3M989.9 532h32.3M1025.8 532h2.3M1029.8 532h2.3M1039.8 532h2.3M1053.8 532h4.3M1061.8 532h2.3M1065.8 532h2.3M1069.8 532h2.3M1073.8 532h2.3M1077.8 532h2.3M1081.8 532h22.3M1107.8 532h2.3M1111.8 532h2.3M1117.8 532h2.3M1127.8 532h2.3M1137.8 532h8.3M1153.8 532h2.3M1175.8 532h2.3M1203.8 532h2.3M981.9 534h2.3M985.9 534h2.3M989.9 534h32.3M1025.8 534h2.3M1029.8 534h2.3M1035.8 534h4.3M1055.8 534h2.3M1061.8 534h2.3M1065.8 534h2.3M1069.8 534h2.3M1073.8 534h2.3M1077.8 534h2.3M1081.8 534h2.3M1085.8 534h14.3M1101.8 534h2.3M1107.8 534h2.3M1113.8 534h2.3M1117.8 534h2.3M1127.8 534h2.3M1137.8 534h2.3M1141.8 534h2.3M1145.8 534h2.3M1181.8 534h2.3M1187.8 534h2.3M985.9 536h2.3M989.9 536h32.3M1025.8 536h2.3M1029.8 536h2.3M1033.8 536h2.3M1057.8 536h2.3M1061.8 536h2.3M1065.8 536h2.3M1071.8 536h4.3M1077.8 536h2.3M1081.8 536h2.3M1085.8 536h14.3M1101.8 536h2.3M1107.8 536h2.3M1113.8 536h2.3M1117.8 536h2.3M1127.8 536h2.3M1137.8 536h2.3M1153.8 536h2.3M1157.8 536h2.3M1167.8 536h2.3M1179.8 536h2.3M1183.8 536h2.3M1199.8 536h2.3M979.9 538h4.3M985.9 538h2.3M989.9 538h32.3M1025.8 538h6.3M1033.8 538h2.3M1057.8 538h2.3M1061.8 538h2.3M1065.8 538h2.3M1071.8 538h2.3M1075.8 538h2.3M1079.8 538h2.3M1083.8 538h16.3M1101.8 538h2.3M1107.8 538h2.3M1113.8 538h2.3M1117.8 538h2.3M1127.8 538h2.3M1137.8 538h2.3M1209.8 538h4.3M985.9 540h2.3M989.9 540h28.3M1019.9 540h2.3M1025.8 540h6.3M1033.8 540h2.3M1057.8 540h2.3M1061.8 540h2.3M1065.8 540h2.3M1071.8 540h2.3M1075.8 540h2.3M1079.8 540h2.3M1083.8 540h16.3M1103.8 540h2.3M1107.8 540h2.3M1113.8 540h2.3M1117.8 540h2.3M1127.8 540h2.3M1137.8 540h2.3M1157.8 540h2.3M983.9 542h2.3M989.9 542h30.3M1025.8 542h6.3M1033.8 542h2.3M1057.8 542h2.3M1061.8 542h2.3M1065.8 542h2.3M1071.8 542h2.3M1075.8 542h2.3M1079.8 542h2.3M1083.8 542h16.3M1103.8 542h2.3M1109.8 542h2.3M1113.8 542h2.3M1117.8 542h2.3M1127.8 542h2.3M1137.8 542h2.3M1141.8 542h2.3M1187.8 542h2.3M983.9 544h2.3M989.9 544h30.3M1025.8 544h8.3M1055.8 544h2.3M1061.8 544h2.3M1065.8 544h2.3M1069.8 544h2.3M1075.8 544h2.3M1079.8 544h2.3M1083.8 544h18.3M1103.8 544h2.3M1109.8 544h2.3M1113.8 544h2.3M1117.8 544h2.3M1127.8 544h2.3M1137.8 544h2.3M1141.8 544h2.3M1145.8 544h2.3M1177.8 544h2.3M1191.8 544h2.3M1219.8 544h2.3M983.9 546h2.3M987.9 546h2.3M991.9 546h28.3M1023.9 546h2.3M1027.8 546h2.3M1031.8 546h2.3M1055.8 546h2.3M1061.8 546h4.3M1069.8 546h2.3M1073.8 546h2.3M1079.8 546h2.3M1083.8 546h18.3M1103.8 546h2.3M1109.8 546h2.3M1113.8 546h2.3M1117.8 546h2.3M1127.8 546h2.3M1137.8 546h2.3M1183.8 546h2.3M1199.8 546h2.3M979.9 548h2.3M983.9 548h2.3M987.9 548h2.3M991.9 548h28.3M1021.9 548h2.3M1027.8 548h2.3M1031.8 548h2.3M1055.8 548h2.3M1059.8 548h2.3M1063.8 548h2.3M1067.8 548h2.3M1073.8 548h2.3M1081.8 548h20.3M1103.8 548h2.3M1109.8 548h2.3M1113.8 548h2.3M1117.8 548h2.3M1127.8 548h2.3M1137.8 548h2.3M1143.8 548h2.3M1147.8 548h4.3M1179.8 548h2.3M1183.8 548h2.3M1205.8 548h2.3M1245.8 548h2.3M983.9 550h2.3M987.9 550h2.3M991.9 550h28.3M1021.9 550h2.3M1027.8 550h2.3M1031.8 550h2.3M1055.8 550h2.3M1059.8 550h2.3M1063.8 550h2.3M1067.8 550h2.3M1073.8 550h2.3M1081.8 550h20.3M1103.8 550h2.3M1107.8 550h2.3M1113.8 550h2.3M1117.8 550h2.3M1127.8 550h2.3M1137.8 550h4.3M1143.8 550h2.3M1153.8 550h2.3M1203.8 550h2.3M1229.8 550h2.3M983.9 552h2.3M987.9 552h2.3M991.9 552h32.3M1027.8 552h2.3M1031.8 552h2.3M1049.8 552h6.3M1059.8 552h2.3M1063.8 552h2.3M1067.8 552h2.3M1073.8 552h2.3M1081.8 552h20.3M1103.8 552h2.3M1107.8 552h2.3M1113.8 552h2.3M1117.8 552h2.3M1127.8 552h2.3M1137.8 552h4.3M1153.8 552h2.3M1167.8 552h2.3M983.9 554h2.3M987.9 554h2.3M991.9 554h30.3M1023.9 554h2.3M1027.8 554h2.3M1033.8 554h2.3M1047.8 554h2.3M1057.8 554h2.3M1061.8 554h2.3M1067.8 554h2.3M1073.8 554h2.3M1081.8 554h24.3M1107.8 554h2.3M1113.8 554h2.3M1117.8 554h2.3M1127.8 554h2.3M1137.8 554h2.3M1165.8 554h2.3M1185.8 554h2.3M1265.8 554h2.3M981.9 556h4.3M987.9 556h2.3M991.9 556h30.3M1023.9 556h2.3M1029.8 556h2.3M1033.8 556h4.3M1045.8 556h4.3M1053.8 556h4.3M1061.8 556h2.3M1067.8 556h2.3M1075.8 556h2.3M1081.8 556h10.3M1093.8 556h12.3M1107.8 556h2.3M1111.8 556h2.3M1117.8 556h2.3M1127.8 556h2.3M1137.8 556h2.3M1155.8 556h6.3M1189.8 556h2.3M1193.8 556h2.3M983.9 558h2.3M987.9 558h2.3M991.9 558h34.3M1031.8 558h2.3M1037.8 558h8.3M1051.8 558h2.3M1057.8 558h4.3M1065.8 558h2.3M1073.8 558h2.3M1081.8 558h10.3M1093.8 558h12.3M1107.8 558h2.3M1111.8 558h2.3M1117.8 558h2.3M1127.8 558h2.3M1137.8 558h4.3M1143.8 558h2.3M1149.8 558h2.3M1159.8 558h2.3M1173.8 558h2.3M1303.8 558h2.3M983.9 560h2.3M987.9 560h2.3M991.9 560h32.3M1025.8 560h2.3M1031.8 560h2.3M1047.8 560h4.3M1055.8 560h2.3M1063.8 560h4.3M1073.8 560h2.3M1081.8 560h10.3M1093.8 560h12.3M1107.8 560h2.3M1111.8 560h2.3M1117.8 560h2.3M1127.8 560h2.3M1137.8 560h4.3M1143.8 560h2.3M1163.8 560h2.3M983.9 562h2.3M987.9 562h2.3M991.9 562h34.3M1027.8 562h2.3M1033.8 562h4.3M1039.8 562h8.3M1053.8 562h2.3M1073.8 562h2.3M1081.8 562h10.3M1093.8 562h12.3M1107.8 562h2.3M1111.8 562h2.3M1117.8 562h2.3M1125.8 562h2.3M1137.8 562h2.3M1143.8 562h2.3M979.9 564h2.3M983.9 564h2.3M989.9 564h36.3M1027.8 564h2.3M1037.8 564h2.3M1047.8 564h6.3M1073.8 564h2.3M1081.8 564h10.3M1093.8 564h12.3M1107.8 564h2.3M1111.8 564h2.3M1117.8 564h2.3M1125.8 564h2.3M1137.8 564h4.3M1149.8 564h2.3M975.9 566h2.3M979.9 566h2.3M983.9 566h2.3M989.9 566h38.3M1029.8 566h4.3M1043.8 566h4.3M1055.8 566h4.3M1073.8 566h2.3M1081.8 566h12.3M1095.8 566h10.3M1107.8 566h2.3M1111.8 566h2.3M1117.8 566h2.3M1125.8 566h2.3M1137.8 566h2.3M1145.8 566h2.3M1155.8 566h2.3M1165.8 566h2.3M983.9 568h2.3M989.9 568h2.3M993.9 568h28.3M1023.9 568h2.3M1027.8 568h2.3M1033.8 568h10.3M1051.8 568h4.3M1073.8 568h2.3M1079.8 568h2.3M1083.8 568h22.3M1107.8 568h2.3M1111.8 568h2.3M1117.8 568h2.3M1125.8 568h2.3M1135.8 568h2.3M1147.8 568h2.3M1159.8 568h2.3M1177.8 568h2.3M985.9 570h2.3M989.9 570h2.3M993.9 570h32.3M1027.8 570h4.3M1047.8 570h4.3M1073.8 570h2.3M1079.8 570h2.3M1083.8 570h18.3M1103.8 570h2.3M1107.8 570h2.3M1111.8 570h2.3M1117.8 570h2.3M1125.8 570h2.3M1135.8 570h2.3M1139.8 570h2.3M1151.8 570h2.3M1155.8 570h2.3M981.9 572h2.3M985.9 572h2.3M989.9 572h2.3M993.9 572h30.3M1025.8 572h2.3M1031.8 572h6.3M1045.8 572h2.3M1065.8 572h4.3M1071.8 572h2.3M1077.8 572h2.3M1081.8 572h8.3M1095.8 572h6.3M1103.8 572h2.3M1107.8 572h2.3M1111.8 572h2.3M1117.8 572h2.3M1125.8 572h2.3M1135.8 572h2.3M1139.8 572h4.3M1155.8 572h2.3M985.9 574h2.3M989.9 574h2.3M993.9 574h32.3M1027.8 574h2.3M1037.8 574h8.3M1055.8 574h2.3M1069.8 574h2.3M1077.8 574h2.3M1081.8 574h6.3M1097.8 574h4.3M1103.8 574h2.3M1107.8 574h2.3M1111.8 574h2.3M1117.8 574h2.3M1125.8 574h2.3M1135.8 574h2.3M1139.8 574h2.3M975.9 576h2.3M985.9 576h2.3M989.9 576h2.3M993.9 576h32.3M1029.8 576h4.3M1053.8 576h2.3M1073.8 576h4.3M1079.8 576h2.3M1083.8 576h4.3M1097.8 576h2.3M1101.8 576h2.3M1107.8 576h2.3M1111.8 576h2.3M1117.8 576h2.3M1125.8 576h2.3M1135.8 576h2.3M1155.8 576h2.3M985.9 578h2.3M991.9 578h2.3M995.9 578h32.3M1033.8 578h4.3M1051.8 578h2.3M1069.8 578h4.3M1077.8 578h2.3M1081.8 578h6.3M1097.8 578h2.3M1101.8 578h2.3M1105.8 578h2.3M1111.8 578h2.3M1117.8 578h2.3M1125.8 578h2.3M1135.8 578h4.3M1149.8 578h2.3M1163.8 578h2.3M985.9 580h2.3M991.9 580h2.3M995.9 580h34.3M1037.8 580h2.3M1049.8 580h2.3M1065.8 580h4.3M1071.8 580h6.3M1081.8 580h6.3M1101.8 580h2.3M1105.8 580h2.3M1111.8 580h2.3M1115.8 580h2.3M1123.8 580h2.3M1135.8 580h2.3M1139.8 580h4.3M1171.8 580h2.3M1177.8 580h2.3M987.9 582h2.3M991.9 582h2.3M995.9 582h36.3M1039.8 582h10.3M1061.8 582h4.3M1069.8 582h4.3M1075.8 582h10.3M1105.8 582h2.3M1109.8 582h2.3M1115.8 582h2.3M1123.8 582h2.3M1133.8 582h2.3M1137.8 582h2.3M987.9 584h2.3M993.9 584h2.3M997.9 584h4.3M1003.9 584h32.3M1055.8 584h6.3M1065.8 584h4.3M1071.8 584h4.3M1077.8 584h8.3M1109.8 584h2.3M1115.8 584h2.3M1123.8 584h2.3M1133.8 584h2.3M1137.8 584h2.3M1145.8 584h2.3M985.9 586h4.3M993.9 586h2.3M997.9 586h2.3M1001.9 586h32.3M1035.8 586h6.3M1049.8 586h6.3M1059.8 586h2.3M1069.8 586h2.3M1075.8 586h8.3M1109.8 586h2.3M1113.8 586h2.3M1123.8 586h2.3M1133.8 586h2.3M1137.8 586h2.3M1141.8 586h2.3M979.9 588h2.3M989.9 588h2.3M993.9 588h2.3M999.9 588h4.3M1005.9 588h44.3M1051.8 588h8.3M1065.8 588h4.3M1071.8 588h4.3M1077.8 588h6.3M1101.8 588h2.3M1107.8 588h2.3M1113.8 588h2.3M1121.8 588h2.3M1133.8 588h4.3M1155.8 588h4.3M1165.8 588h2.3M1181.8 588h2.3M989.9 590h2.3M995.9 590h2.3M999.9 590h2.3M1003.9 590h2.3M1007.9 590h48.3M1057.8 590h4.3M1067.8 590h4.3M1075.8 590h8.3M1099.8 590h2.3M1107.8 590h2.3M1113.8 590h2.3M1121.8 590h2.3M1133.8 590h2.3M1137.8 590h2.3M1149.8 590h2.3M1157.8 590h2.3M1163.8 590h2.3M989.9 592h2.3M995.9 592h2.3M1001.9 592h2.3M1007.9 592h50.3M1063.8 592h4.3M1071.8 592h4.3M1077.8 592h4.3M1105.8 592h2.3M1111.8 592h2.3M1121.8 592h2.3M1131.8 592h2.3M1173.8 592h2.3M991.9 594h2.3M997.9 594h2.3M1009.9 594h6.3M1017.9 594h34.3M1055.8 594h16.3M1075.8 594h6.3M1103.8 594h2.3M1111.8 594h2.3M1119.8 594h2.3M1131.8 594h2.3M1135.8 594h2.3M1139.8 594h2.3M1161.8 594h2.3M991.9 596h2.3M997.9 596h2.3M1007.9 596h2.3M1017.9 596h50.3M1069.8 596h6.3M1077.8 596h4.3M1101.8 596h2.3M1109.8 596h2.3M1119.8 596h2.3M1131.8 596h2.3M1139.8 596h2.3M1179.8 596h2.3M987.9 598h2.3M993.9 598h2.3M999.9 598h2.3M1017.9 598h16.3M1037.8 598h32.3M1073.8 598h8.3M1107.8 598h2.3M1117.8 598h2.3M1129.8 598h2.3M1137.8 598h2.3M1141.8 598h4.3M1151.8 598h2.3M991.9 600h4.3M999.9 600h2.3M1017.9 600h12.3M1033.8 600h46.3M1089.8 600h2.3M1107.8 600h2.3M1117.8 600h2.3M1129.8 600h4.3M1135.8 600h2.3M1145.8 600h2.3M987.9 602h2.3M995.9 602h2.3M1001.9 602h2.3M1017.9 602h10.3M1029.8 602h10.3M1043.8 602h24.3M1071.8 602h6.3M1079.8 602h2.3M1095.8 602h2.3M1105.8 602h2.3M1115.8 602h2.3M1127.8 602h2.3M995.9 604h2.3M1001.9 604h2.3M1017.9 604h14.3M1039.8 604h20.3M1063.8 604h2.3M1071.8 604h8.3M1093.8 604h2.3M1103.8 604h2.3M1115.8 604h2.3M1127.8 604h2.3M1131.8 604h2.3M1135.8 604h2.3M1143.8 604h2.3M997.9 606h2.3M1003.9 606h2.3M1019.9 606h8.3M1031.8 606h32.3M1071.8 606h6.3M1079.8 606h4.3M1091.8 606h4.3M1101.8 606h2.3M1113.8 606h2.3M1125.8 606h2.3M1137.8 606h2.3M1151.8 606h2.3M987.9 608h2.3M993.9 608h2.3M997.9 608h2.3M1003.9 608h2.3M1015.9 608h2.3M1021.9 608h2.3M1025.8 608h12.3M1045.8 608h18.3M1071.8 608h8.3M1089.8 608h2.3M1099.8 608h2.3M1111.8 608h2.3M1123.8 608h2.3M1139.8 608h2.3M1143.8 608h2.3M999.9 610h2.3M1005.9 610h2.3M1017.9 610h2.3M1023.9 610h4.3M1031.8 610h30.3M1083.8 610h6.3M1097.8 610h2.3M1109.8 610h2.3M1123.8 610h2.3M1133.8 610h2.3M1139.8 610h2.3M999.9 612h2.3M1019.9 612h2.3M1027.8 612h32.3M1075.8 612h8.3M1093.8 612h4.3M1107.8 612h2.3M1121.8 612h2.3M1135.8 612h2.3M1149.8 612h2.3M1001.9 614h2.3M1019.9 614h4.3M1089.8 614h4.3M1105.8 614h2.3M1119.8 614h2.3M1135.8 614h2.3M1145.8 614h2.3M1167.8 614h2.3M997.9 616h2.3M1003.9 616h2.3M1009.9 616h2.3M1015.9 616h2.3M1023.9 616h4.3M1083.8 616h6.3M1101.8 616h4.3M1117.8 616h2.3M1219.8 616h2.3M995.9 618h2.3M1003.9 618h2.3M1011.9 618h2.3M1017.9 618h4.3M1027.8 618h12.3M1045.8 618h14.3M1077.8 618h6.3M1099.8 618h2.3M1115.8 618h2.3M1127.8 618h2.3M1137.8 618h4.3M1005.9 620h2.3M1013.9 620h2.3M1021.9 620h2.3M1039.8 620h6.3M1069.8 620h8.3M1095.8 620h4.3M1113.8 620h2.3M1129.8 620h2.3M1137.8 620h4.3M1001.9 622h2.3M1007.9 622h2.3M1015.9 622h2.3M1023.9 622h4.3M1063.8 622h6.3M1091.8 622h4.3M1109.8 622h4.3M1121.8 622h2.3M1139.8 622h2.3M1005.9 624h4.3M1017.9 624h2.3M1027.8 624h36.3M1085.8 624h6.3M1107.8 624h2.3M1131.8 624h2.3M1179.8 624h2.3M1009.9 626h2.3M1019.9 626h4.3M1079.8 626h6.3M1103.8 626h4.3M1119.8 626h2.3M1123.8 626h2.3M1129.8 626h4.3M1139.8 626h2.3M1147.8 626h2.3M1001.9 628h2.3M1011.9 628h2.3M1023.9 628h4.3M1071.8 628h8.3M1099.8 628h4.3M1109.8 628h2.3M1123.8 628h4.3M1129.8 628h2.3M999.9 630h4.3M1005.9 630h2.3M1011.9 630h4.3M1027.8 630h10.3M1059.8 630h12.3M1093.8 630h10.3M1105.8 630h8.3M1119.8 630h4.3M1127.8 630h8.3M1195.8 630h2.3M1015.9 632h4.3M1037.8 632h22.3M1087.8 632h6.3M1019.9 634h4.3M1079.8 634h8.3M1023.9 636h6.3M1069.8 636h10.3M1029.8 638h40.3M1331.8 335h2.3M1333.8 395h2.3M1340.8 477h2.3M1313.8 530h2.3M1288.8 600h2.3M1280.8 598h2.3M1256.8 598h2.3M1268.8 270h2.3M1260.8 275h2.3M1220.8 210h2.3M1208.8 215h2.3M1178.8 170h2.3M1125.8 155h2.3M1111.8 163h2.3" stroke="#000" stroke-width="2.3" fill="none"/>
<path d="M1019.9 242h6.3M1011.9 246h2.3M1009.9 248h6.3M1023.9 248h2.3M1035.8 248h2.3M1021.9 250h8.3M1031.8 250h8.3M1019.9 252h20.3M1009.9 254h2.3M1017.9 254h20.3M1061.8 254h6.3M1007.9 256h6.3M1019.9 256h16.3M1057.8 256h12.3M1009.9 258h2.3M1021.9 258h12.3M1055.8 258h14.3M1023.9 260h8.3M1055.8 260h14.3M1023.9 262h8.3M1057.8 262h10.3M1025.8 264h6.3M1137.8 266h2.3M1135.8 268h6.3M1135.8 270h8.3M1135.8 272h8.3M1075.8 274h12.3M1133.8 274h10.3M1073.8 276h16.3M1135.8 276h6.3M1075.8 278h12.3M1077.8 280h8.3M1139.8 298h8.3M1133.8 300h14.3M1139.8 302h8.3M1079.8 308h4.3M1079.8 310h4.3M1085.8 310h4.3M1059.8 322h8.3M1069.8 322h10.3M1057.8 324h22.3M1057.8 326h22.3M1015.9 328h6.3M1059.8 328h18.3M1013.9 330h6.3M1061.8 330h14.3M1111.8 330h6.3M1013.9 332h6.3M1063.8 332h10.3M1109.8 332h10.3M1015.9 334h4.3M1109.8 334h12.3M1015.9 336h4.3M1111.8 336h8.3M1013.9 338h8.3M1111.8 338h8.3M1015.9 340h14.3M1053.8 340h6.3M1017.9 342h12.3M1043.8 342h2.3M1049.8 342h12.3M1017.9 344h12.3M1043.8 344h2.3M1049.8 344h12.3M1015.9 346h14.3M1047.8 346h14.3M1011.9 348h16.3M1049.8 348h10.3M1013.9 350h8.3M1051.8 350h8.3M1015.9 352h6.3M1051.8 352h8.3M1015.9 354h6.3M1055.8 354h2.3M1017.9 356h4.3M1017.9 358h4.3M1123.8 372h2.3M1121.8 374h6.3M1121.8 376h6.3M1121.8 378h8.3M1121.8 380h8.3M1007.9 462h2.3M1061.8 462h4.3M999.9 464h4.3M1007.9 464h2.3M1021.9 464h4.3M1041.8 464h2.3M1051.8 464h4.3M1061.8 464h6.3M1001.9 466h4.3M1007.9 466h4.3M1019.9 466h6.3M1039.8 466h20.3M1061.8 466h6.3M1001.9 468h12.3M1019.9 468h6.3M1041.8 468h26.3M1001.9 470h14.3M1019.9 470h8.3M1043.8 470h24.3M995.9 472h18.3M1017.9 472h12.3M1043.8 472h12.3M1057.8 472h10.3M1079.8 472h2.3M993.9 474h16.3M1019.9 474h10.3M1045.8 474h8.3M1061.8 474h6.3M1077.8 474h6.3M993.9 476h16.3M1023.9 476h4.3M1063.8 476h2.3M1075.8 476h8.3M993.9 478h8.3M1067.8 478h18.3M1067.8 480h22.3M1067.8 482h22.3M1071.8 484h18.3M1069.8 486h18.3M1069.8 488h16.3M1069.8 490h14.3M1071.8 492h10.3M1075.8 494h2.3M1025.8 496h10.3M1075.8 496h2.3M1025.8 498h12.3M1025.8 500h14.3M1023.9 502h16.3M1023.9 504h16.3M1023.9 506h10.3M1097.8 506h4.3M1095.8 508h6.3M1095.8 510h10.3M1091.8 512h14.3M1099.8 514h8.3M1055.8 516h2.3M1099.8 516h10.3M1055.8 518h8.3M1097.8 518h12.3M1053.8 520h12.3M1099.8 520h8.3M1053.8 522h12.3M1053.8 524h10.3M1053.8 526h10.3M1061.8 562h2.3M1059.8 564h6.3M1059.8 566h6.3M1059.8 568h6.3M1059.8 570h6.3M1059.8 572h6.3M1089.8 572h6.3M1057.8 574h8.3M1087.8 574h10.3M1057.8 576h10.3M1087.8 576h10.3M1065.8 578h2.3M1087.8 578h10.3M1079.8 580h2.3M1087.8 580h12.3M1085.8 582h20.3M1063.8 584h2.3M1085.8 584h22.3M1061.8 586h4.3M1083.8 586h24.3M1061.8 588h4.3M1083.8 588h18.3M1061.8 590h4.3M1083.8 590h16.3M1003.9 592h4.3M1081.8 592h18.3M1001.9 594h6.3M1015.9 594h2.3M1081.8 594h16.3M1001.9 596h6.3M1011.9 596h6.3M1081.8 596h18.3M1001.9 598h16.3M1081.8 598h6.3M1091.8 598h10.3M1003.9 600h14.3M1081.8 600h6.3M1093.8 600h8.3M1003.9 602h14.3M1067.8 602h4.3M1081.8 602h8.3M1005.9 604h10.3M1065.8 604h6.3M1083.8 604h4.3M1005.9 606h10.3M1065.8 606h6.3M1007.9 608h8.3M1063.8 608h8.3M1007.9 610h8.3M1061.8 610h12.3M1007.9 612h8.3M1059.8 612h14.3M1007.9 614h8.3M1059.8 614h16.3M1011.9 616h2.3M1059.8 616h18.3M1073.8 618h2.3" stroke="#8a8a8a" stroke-width="2.3" fill="none"/>
</g>
</g>
<g id="labels">
<text class="t" x="101.6" y="91.1">10</text><text class="u" x="135.4" y="77.3">5</text>
<text class="t" x="101.6" y="228.9">10</text><text class="u" x="135.4" y="215.1">4</text>
<text class="t" x="101.6" y="373.4">10</text><text class="u" x="135.4" y="359.6">3</text>
<text class="t" x="101.6" y="523.7">10</text><text class="u" x="135.4" y="509.9">2</text>
<text class="t" x="133.0" y="595.4">0</text>
<text class="t" x="286.0" y="711.2">10</text><text class="u" x="319.6" y="696.8">2</text>
<text class="t" x="438.0" y="711.2">10</text><text class="u" x="471.6" y="696.8">3</text>
<text class="t" x="582.8" y="711.2">10</text><text class="u" x="616.4" y="696.8">4</text>
<text class="t" x="721.3" y="711.2">10</text><text class="u" x="754.9" y="696.8">5</text>
<text class="t" x="247.2" y="711.2">0</text>
<text class="l" x="310.0" y="741.8" textLength="352.5" lengthAdjust="spacingAndGlyphs">APC-Cy™7 Isotype Control</text>
<text class="v" transform="translate(87.6 419.4) rotate(-90)" textLength="162" lengthAdjust="spacingAndGlyphs">FITC CD11b</text>
<text class="t" x="880.9" y="91.1">10</text><text class="u" x="914.7" y="77.3">5</text>
<text class="t" x="880.9" y="228.9">10</text><text class="u" x="914.7" y="215.1">4</text>
<text class="t" x="880.9" y="373.4">10</text><text class="u" x="914.7" y="359.6">3</text>
<text class="t" x="880.9" y="523.7">10</text><text class="u" x="914.7" y="509.9">2</text>
<text class="t" x="912.3" y="595.4">0</text>
<text class="t" x="1065.3" y="711.2">10</text><text class="u" x="1098.9" y="696.8">2</text>
<text class="t" x="1217.3" y="711.2">10</text><text class="u" x="1250.9" y="696.8">3</text>
<text class="t" x="1362.1" y="711.2">10</text><text class="u" x="1395.7" y="696.8">4</text>
<text class="t" x="1500.6" y="711.2">10</text><text class="u" x="1534.2" y="696.8">5</text>
<text class="t" x="1026.5" y="711.2">0</text>
<text class="l" x="1134.8" y="741.8" textLength="261.5" lengthAdjust="spacingAndGlyphs">APC-Cy™7 Siglec-F</text>
<text class="v" transform="translate(866.9 419.4) rotate(-90)" textLength="162" lengthAdjust="spacingAndGlyphs">FITC CD11b</text>
</g>
</svg></body></html>
